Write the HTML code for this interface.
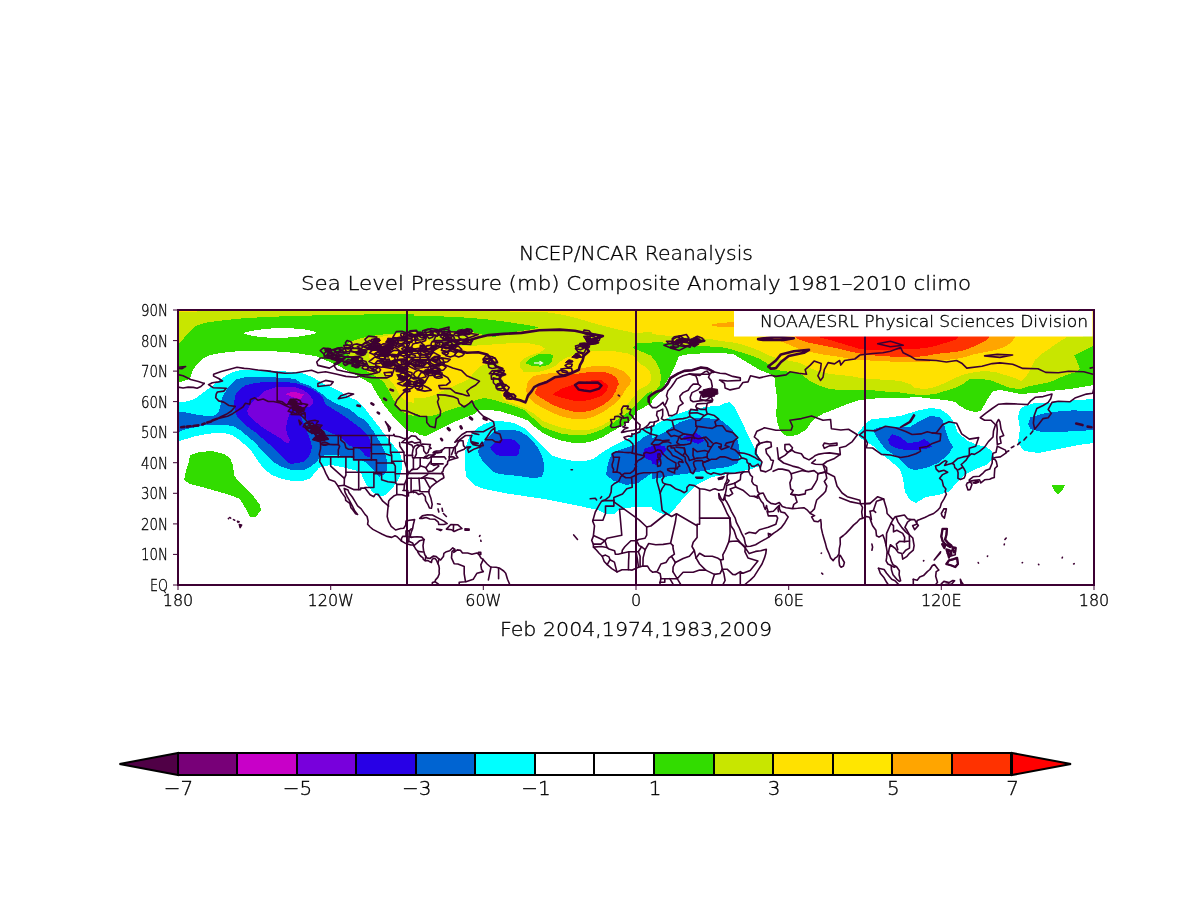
<!DOCTYPE html><html><head><meta charset="utf-8"><title>NCEP/NCAR Reanalysis SLP Composite Anomaly</title><style>html,body{margin:0;padding:0;background:#fff;}svg{display:block}text{font-family:"DejaVu Sans","Liberation Sans",sans-serif;font-weight:200;fill:#000;stroke:#000;stroke-width:0.35px}</style></head><body>
<svg width="1190" height="921" viewBox="0 0 1190 921">
<rect width="1190" height="921" fill="#fff"/>
<defs>
<clipPath id="c1"><rect x="178" y="310" width="236" height="275"/></clipPath>
<clipPath id="c2"><rect x="414" y="310" width="238" height="275"/></clipPath>
<clipPath id="c3"><rect x="652" y="310" width="238" height="275"/></clipPath>
<clipPath id="c4"><rect x="890" y="310" width="204" height="275"/></clipPath>
<clipPath id="cm"><rect x="178" y="310" width="916" height="275"/></clipPath>
</defs>
<g shape-rendering="crispEdges">
<g clip-path="url(#c1)">
<polygon fill="#32dc00" points="170,300 420,300 420,434 414,433 406.4,430.2 395.1,418.9 383.8,404.7 376.7,393.4 371.1,383.6 358.4,376.5 337.2,365.2 316,356 306,354.6 296,353 276,351.4 256,351 236,351.4 220,353 210,355 202,359 196,365 192,372 191,376 187,380 182,381.5 179,382 170,382"/>
<polygon fill="#ffffff" points="243,333 256,330 272,328.4 288,328 304,329.4 317,332 314,334 296,337 276,338.2 260,337 248,335"/>
<polygon fill="#c8e600" points="170,300 420,300 420,314 406,314 356,314.6 316,315.4 276,316.6 246,318 226,320 206,322.6 196,326 190,331 184,338 179,343 170,343"/>
<polygon fill="#ffe100" points="170,300 224,300 224,311 170,312"/>
<polygon fill="#c8e600" points="341.4,347.5 351.3,341.2 362.6,337.7 375.3,335.5 386.6,334.1 400.7,333 420,332 420,418 406.4,413.9 400.7,410.4 396.5,404.7 392.3,397.7 388,389.2 383.8,382.1 378.1,377.9 369.7,373 362.6,368.7 357,363.8 348.5,355.3"/>
<polygon fill="#ffe100" points="381,337 395,334 420,332.5 420,404 409.2,401.9 403.6,399.1 399.3,394.9 395.1,386.4 389.4,379.3 382.4,373.7 375.3,368 369.7,359.5 368.3,351.1 372.5,344"/>
<polygon fill="#32dc00" points="190,455 200,452 212,451 224,454 230,458 233,465 234,475 238,481 246,489 254,497 260,505 261,510 256,517 250,517 246,509 240,499 230,495 216,491 202,487 190,484 184,480 186,471 189,461"/>
<polygon fill="#00ffff" points="170,402 178,402 186,401.5 192,400 196,398 200,395 204,392 208,389 212,386 216,383 220,380 224,377 229,374 236,371 246,369.5 256,369.5 266,370 276,371 286,371.5 295,372 304,373.6 314,378 322,383 333,388 341,392 349,397 358,401 366,410 373,419 380,428 386,436.5 391.5,443 396,448.4 400.7,454.8 402,461.2 402,467.6 400.7,474 397.9,480.4 394.2,485.9 388.8,492.3 383.3,496 377.8,496.5 372.3,491.4 366.8,485.5 364,480.4 361.3,474 355.8,470.4 344.8,467.6 331.1,464.9 319.2,467.6 314.6,473 310,478.6 302,481 292,481 282,479 272,475 264,469 258,461 252,452 250,450 244,444 238,439 232,435 226,433.5 216,433 206,434 196,436 186,439 179,441 170,441"/>
<polygon fill="#0064d2" points="170,412 179,412 186,412.5 196,414.5 206,416 214,415.5 218,413 220,408 221,402 223,396 227,389 231,384 236,379.5 244,377.5 256,376.5 266,376.5 276,377.5 286,378 295,379 300,382.5 308,385 315,389 322,394 328,399 335,403 342,406 349,409 353,412 359,417 364.9,420 368.6,424.6 373.2,431 377.8,438.3 381.4,444.7 384.2,450.2 386,456.6 387.4,464 386.5,471.3 383.3,475 379.6,476.8 375.9,473.1 372.3,468.5 366.8,463 361.3,460.3 354,458.5 346.6,456.2 337.5,455.3 328.3,455.3 320,455.7 319.2,458.5 315.5,463 310,467 304,470 292,470 282,467 272,461 262,451 258,446 252,440 246,435 240,430 234,426.5 226,425 216,424.5 206,425 196,427 186,429 179,432 170,432"/>
<polygon fill="#2800e6" points="236,393 240,389 245,385.5 255,383 265,382 275,381.8 285,382 295,383 305,386 312,389 318,393 323,398 325.3,404.2 332,408.4 338.7,412.6 345.5,416.8 352.2,421.8 358.9,426.9 364,431.9 367.3,435.3 369.8,439.5 370.7,443.7 370.7,450.4 369.8,457.1 365.6,456.3 361.4,450.4 357.2,447.9 353,447.1 348.8,445.4 343.8,440.3 340.4,437 337.1,435.3 332,433.6 325.3,430.3 319.4,427.7 313.5,424.4 306.8,419.3 302.6,415.1 300.9,416.8 304.3,425.2 308.5,435.3 311,442 311.8,447.1 311,452.1 308.5,457.1 304.3,461.3 298.4,463 290,463.9 283,458 277,452 269,444 262,438 255,432 248,427 242,422 237,416 235,410 234,403 235,397"/>
<polygon fill="#7800dc" points="258,397 265,391 275,387.5 285,386.5 295,387.2 303,389.8 309,394 312.5,399 313,403 310,406.5 304,408 299,407 291,408 290,412 288.5,417 287,422 286,429 287.5,435 290,440 288,443.5 284,441.5 280,438 274,434.5 267,430.5 260,425.5 254,420.5 249,416 247,411 250,405 254,400"/>
<polygon fill="#c800c8" points="285,394 290,392.5 295,392 300,393.5 304,394.5 302,397 300,399.5 295,398 290,396"/>
</g>
<g clip-path="url(#c2)">
<polygon fill="#32dc00" points="410,300 660,300 660,403 652,403 648,405 643,408 637,411 633,418 627,423 620,427 613,431 603,437 593,441 583,443 573,443 563,441 553,438 543,433 533,425.5 529,421 519,417 509,414 499,411 489,410 479,410 474,414 464,418 454,422 444,427 434,432 426,436 420.3,435 415.3,432.1 410,430"/>
<polygon fill="#c8e600" points="410,300 660,300 660,391 652,391 648,393 643,397 637,403 633,408 627,413 620,418 613,423 603,429 593,433 583,435.5 573,435 563,434 553,431 543,427 533,418 524,410 514,406 504,403 494,400 484,398 476,400 469,404 459,407 449,410 439,414 429,416.5 422,416.1 415.3,413.6 410,412"/>
<polygon fill="#32dc00" points="410,316 444,316.5 464,317.5 484,319 504,321.5 524,324.5 533,326 538,327.5 533,329 524,330.5 514,332 504,334 494,337 484,335 474,332.5 444,331 410,332"/>
<polygon fill="#ffe100" points="490,310 660,310 660,332 643,332.5 636,333.5 628,331.5 618,329.5 608,327 598,324.5 588,321.5 578,318.5 568,316 558,314 548,312.5 533,311.8 510,311.5 490,311.2"/>
<polygon fill="#ffe100" points="410,341 424,340 434,341 444,345 454,346 469,346 484,345 499,344 514,343 527.6,343 540.2,345.6 545.3,348.9 540.2,352.3 531.8,354.8 523.4,359 520,363 520.5,367.5 523.4,371.6 531.8,372.5 540.2,371.6 548.6,369.1 555.3,365.7 560.4,361.5 565.4,358.2 573.8,354.8 582.2,352.3 590.6,350.6 599,350.6 607.4,351 615,351.4 622,352.5 628,353.5 634,356 637,361 641,364.5 646,367 650,372 651.5,378 650,383 646,386 641,388.5 637,391 635,395 631,400 625,407 618,414 611,420 603,425 593,429 583,430.5 573,430 563,428 553,425 543,421 533,413 524,408 514,404 504,400 501,393 502,383 500,373 499,364 494,362 486,364 479,367 474,372 470,378 464,381.7 455.6,385 447.2,389.2 438.8,392.6 434.6,395.1 426.2,397.6 417.8,398.1 410,398.5"/>
<polygon fill="#32dc00" points="525.1,363.2 531.8,357.3 540.2,353.5 548.6,353.5 552.8,355.6 552,361.5 548.6,364.9 540.2,366.6 531.8,365.7"/>
<polygon fill="#32dc00" points="633,348 637,343.5 643,343 652,342.5 660,342 660,362 652,356 645,353 640,351 636,349.5"/>
<polygon fill="#ffa500" points="526,390 528,381 533,376 543,374 553,373 568,371 583,368 593,366 603,365.5 613,367 623,371 629,376 631,380 630,384 626,389 621,397 613,405 603,412 593,417 583,419.5 573,419 563,417 553,413 543,408 533,402 528,397"/>
<polygon fill="#ff3200" points="535,392 537,388 539,385.5 543,382 553,378 568,375 583,373 593,371.5 603,371.5 611,374 617,378 619,384 618,385 616,391 611,399 603,405 593,410 583,412 573,411.5 563,409 553,405 543,399 536,395"/>
<polygon fill="#ff0000" points="553,395 555,392.5 563,388 573,385 583,382 593,380 601,380 605,383 608,386 607,391 601,396 593,399 583,401 573,400.5 563,398"/>
<polygon fill="#00ffff" points="467,443 470,435 476,429 484,424 494,421 504,421.5 514,423 524,428 533,436 543,447 553,456 563,459 573,461 583,461.5 593,459 603,452 613,446 623,441 629,438 633,435 637,432 643,429 652,425 660,424 660,507 652,507 634,507 620,509 614,514 606,514 598,510 584,507 564,503 544,499 524,496 504,493 484,489 474,485 466,477 465,465 465,453"/>
<polygon fill="#0064d2" points="488,437 494,432 499,430 509,429.5 519,431 526,435 533,441 538,448 542,456 544,464 544,471 542,477 533,478 514,475.5 499,474 492,471 484,463 479,455 478,451 480,446 484,441"/>
<polygon fill="#2800e6" points="490,447 494,443 502,439 509,438.5 516,441 520,446 519,453 516,456 504,456.5 497,455 492,451"/>
<polygon fill="#0064d2" points="606,475 608,463 612,453 622,449 634,445 644,437 652,433 660,432 660,473 652,473 638,483 626,485 614,481"/>
<polygon fill="#2800e6" points="644,449 652,446 660,446 660,462 652,461 646,459 643,455"/>
</g>
<g clip-path="url(#c3)">
<polygon fill="#32dc00" points="645,300 1100,300 1100,385 1094,385 1070,389 1050,391 1034,393 1020,394 1010,392 1000,390 993,391 987,400 981,411 975,412 967,410 960,406 955,402 945,400 935,399 925,398 919,397 900,398 880,398 870,399 860,400 850,403 840,407 830,411 824,413 816,418 812,421 808,427 804,431 798,434.5 792,436 786,435.5 782,433 779,428 777,421 776,413 777,405 777,397 775.5,387 775,378 770,374 760,370 750,364 740,358 733,354 720,353 710,353 690,354 679,356 675,366 670,376 664,386 660,393 652,400 645,405"/>
<polygon fill="#c8e600" points="645,300 1100,300 1100,345 1092.4,346.2 1084,350.4 1074,355.4 1077.3,362.1 1079.8,368.9 1075.6,372.2 1067.2,374.7 1058.8,378.1 1050.4,382 1040,384 1030,386 1020,389 1010,388 1000,384 990,380 980,379 970,379 963,384 955,388 945,391 935,394 925,395 919,395 910,394 900,392.5 890,392 880,391 870,390 860,389.5 850,390 840,390 830,389 820,386 810,381 800,373.5 790,372 776,370 768,364 760,359 750,355 740,352 730,349 720,347 700,346 680,346 660,342 645,343"/>
<polygon fill="#c8e600" points="645,350 650,356 656,362 660,370 661,378 660,385 655,392 650,396 645,400"/>
<polygon fill="#ffe100" points="645,300 1100,300 1100,336 1067,337 1059,342 1050.4,347.9 1042,353.7 1035.3,359.6 1032,365.5 1030,370.5 1025,378 1021,381 1015,378 1005,375 995,372 985,371 975,372 965,374 955,378 945,383 935,387 925,389 915,388 910,384 900,381 890,380 880,379.5 870,379 860,378 850,376 840,375 830,374 820,372 810,368 800,363 790,361 780,359 770,356 760,351 750,347 740,344 730,342 720,341 710,339 700,338 680,337 660,335 645,333"/>
<polygon fill="#ffa500" points="712,324.5 720,323 734,322 740,322 740,327.5 720,327 712,325.5"/>
<polygon fill="#ffa500" points="760,330 1020,330 1015,337 1012.6,341 1006.7,346 1000,348.7 995,350 985,352 975,354 965,357 955,359 945,360 935,361 925,362 915,362 900,362 890,361.5 880,361 870,360.5 860,360 850,359 840,357 830,355.5 820,354 810,352 800,349.5 790,345 780,341 770,338 764,336"/>
<polygon fill="#ff3200" points="790,330 992,330 989,337 985,341 975,346 965,350 955,352 945,353 935,354 925,356 915,357 900,356.5 890,356.5 880,356 870,355 860,353.5 850,351.5 840,349 830,347 820,345 810,343 800,340 795,337"/>
<polygon fill="#ff0000" points="820,330 960,330 958,337 955,340 945,343 935,346 925,348 915,349 900,349.5 890,350 880,350.5 870,350 860,349 850,346 840,343 830,340 820,337.5"/>
<polygon fill="#00ffff" points="645,430 650,428 660,422 670,417 680,413 690,410 700,408 710,406.5 719,406 725,403 730,402 735,408 738,414 743,424 748,435 754,447 760,459 761,465 752,469 732,473 712,477 696,485 686,495 676,507 668,515 660,513 652,509 645,508"/>
<polygon fill="#0064d2" points="645,441 655,437 665,432 672,427 680,422 690,419 700,418 710,418.5 719,419 722,421 732,429 738,441 740,453 738,463 728,467 712,469 692,473 676,475 664,477 652,479 645,480"/>
<polygon fill="#2800e6" points="643,453 648,447 656,445 665,446 666,450 662,456 660,462 656,465 650,463 644,458"/>
<polygon fill="#2800e6" points="683,437 690,434 696,433 702,437 704,441 698,444 690,441 684,440"/>
<polygon fill="#00ffff" points="858,433 862,428 866,423 872,419 885,418 900,416 910,413 920,410 930,408 940,409 946,413 951,418 955,424 958,433 968,441 978,445 986,447 992,451 994,457 986,465 976,469 964,475 956,483 950,491 938,495 926,497 916,503 910,500 905,492 903,478 900,470 894,464 888,459 880,453 873,446 866,441 860,438"/>
<polygon fill="#0064d2" points="873,430 880,427 888,427 900,427.5 910,427 920,421 930,416 940,417 943,421 945,428 948,438 953,447 948,455 938,463 926,468 915,470 908,468 904,463 896,456 886,450 880,442 876,436"/>
<polygon fill="#2800e6" points="888,440 892,434 900,437 908,443 918,442 924,439 930,443 932,447 925,449 915,450 905,450 896,448 890,445"/>
</g>
<g clip-path="url(#c4)">
<polygon fill="#32dc00" points="645,300 1100,300 1100,385 1094,385 1070,389 1050,391 1034,393 1020,394 1010,392 1000,390 993,391 987,400 981,411 975,412 967,410 960,406 955,402 945,400 935,399 925,398 919,397 900,398 880,398 870,399 860,400 850,403 840,407 830,411 824,413 816,418 812,421 808,427 804,431 798,434.5 792,436 786,435.5 782,433 779,428 777,421 776,413 777,405 777,397 775.5,387 775,378 770,374 760,370 750,364 740,358 733,354 720,353 710,353 690,354 679,356 675,366 670,376 664,386 660,393 652,400 645,405"/>
<polygon fill="#c8e600" points="645,300 1100,300 1100,345 1092.4,346.2 1084,350.4 1074,355.4 1077.3,362.1 1079.8,368.9 1075.6,372.2 1067.2,374.7 1058.8,378.1 1050.4,382 1040,384 1030,386 1020,389 1010,388 1000,384 990,380 980,379 970,379 963,384 955,388 945,391 935,394 925,395 919,395 910,394 900,392.5 890,392 880,391 870,390 860,389.5 850,390 840,390 830,389 820,386 810,381 800,373.5 790,372 776,370 768,364 760,359 750,355 740,352 730,349 720,347 700,346 680,346 660,342 645,343"/>
<polygon fill="#ffe100" points="645,300 1100,300 1100,336 1067,337 1059,342 1050.4,347.9 1042,353.7 1035.3,359.6 1032,365.5 1030,370.5 1025,378 1021,381 1015,378 1005,375 995,372 985,371 975,372 965,374 955,378 945,383 935,387 925,389 915,388 910,384 900,381 890,380 880,379.5 870,379 860,378 850,376 840,375 830,374 820,372 810,368 800,363 790,361 780,359 770,356 760,351 750,347 740,344 730,342 720,341 710,339 700,338 680,337 660,335 645,333"/>
<polygon fill="#ffa500" points="760,330 1020,330 1015,337 1012.6,341 1006.7,346 1000,348.7 995,350 985,352 975,354 965,357 955,359 945,360 935,361 925,362 915,362 900,362 890,361.5 880,361 870,360.5 860,360 850,359 840,357 830,355.5 820,354 810,352 800,349.5 790,345 780,341 770,338 764,336"/>
<polygon fill="#ff3200" points="790,330 992,330 989,337 985,341 975,346 965,350 955,352 945,353 935,354 925,356 915,357 900,356.5 890,356.5 880,356 870,355 860,353.5 850,351.5 840,349 830,347 820,345 810,343 800,340 795,337"/>
<polygon fill="#ff0000" points="820,330 960,330 958,337 955,340 945,343 935,346 925,348 915,349 900,349.5 890,350 880,350.5 870,350 860,349 850,346 840,343 830,340 820,337.5"/>
<polygon fill="#00ffff" points="858,433 862,428 866,423 872,419 885,418 900,416 910,413 920,410 930,408 940,409 946,413 951,418 955,424 958,433 968,441 978,445 986,447 992,451 994,457 986,465 976,469 964,475 956,483 950,491 938,495 926,497 916,503 910,500 905,492 903,478 900,470 894,464 888,459 880,453 873,446 866,441 860,438"/>
<polygon fill="#0064d2" points="873,430 880,427 888,427 900,427.5 910,427 920,421 930,416 940,417 943,421 945,428 948,438 953,447 948,455 938,463 926,468 915,470 908,468 904,463 896,456 886,450 880,442 876,436"/>
<polygon fill="#2800e6" points="888,440 892,434 900,437 908,443 918,442 924,439 930,443 932,447 925,449 915,450 905,450 896,448 890,445"/>
<polygon fill="#00ffff" points="1018,417 1020,409 1025,406 1034,403 1048,403 1068,401 1078,400 1094,399 1100,399 1100,443 1094,443 1078,445 1058,449 1038,453 1024,451 1018,443 1020,429"/>
<polygon fill="#0064d2" points="1028,424 1030.5,417.4 1044.6,413.2 1058,411.5 1072.8,410.4 1094,411 1100,411 1100,430 1094,430 1078,431 1058.7,432 1040,431.5 1030.5,429"/>
<polygon fill="#32dc00" points="1052,485 1065,485 1063,489 1058,495 1055,492 1053,488"/>
</g>
</g>
<g clip-path="url(#cm)" fill="none" stroke="#3c0032" stroke-width="1.6" stroke-linejoin="round" stroke-linecap="round">
<polyline points="432.2,585.4 432.4,582.6 435,581.7 435.5,579.9 437.8,577.4 439.3,573.8 439.1,571.3 439.3,568.3 438.8,565.5 437.8,563.4 436.5,560.3 435,558.5 433.5,558.2 431.9,560 431.4,562.5 429.9,561.8 428.1,560.6 425.1,560.6 423.3,559.4 423,557.9 420.5,556 419.5,554.8 417.9,552.4 417.9,551.4 415.9,549.3 413.9,545.9 413.1,545 410.8,545 407.5,544.1 404.7,542.9 401.4,541 397.1,536.7 395,535.8 391.7,537.4 387.2,536.4 382.3,534.3 377.7,531.9 372.9,529.4 370.1,527 367.6,524.2 368.1,521.1 367.1,516.5 365,514.4 361.2,508.9 357.6,505.8 354.8,501.2 352.3,497 349,492.7 348,489.9 344.2,488.4 345.2,492.7 347.2,496.7 349.8,501.2 352.3,505.8 354.8,511 357.6,514.4 355.6,513.8 353.1,510.4 350.8,507.4 349.8,503.4 345.7,500.3 345.4,497.6 341.6,492.4 339.1,488.1 338,486 334.7,481.4 329.1,479.5 325.8,473.4 324.3,469.7 321,463.6 319.7,461.8 320.2,457.2 319.2,454.4 320.5,448.9 320.7,444 320.2,441.6 318.7,437.3 322.5,437.9 324.3,440.1 323.5,435.8 322.5,434.5 318.5,432.4 314.1,430 310.8,428.4 309,423.8 305.2,419.2 301.4,415.6 297.6,412.5 293.8,407.9 288.7,407 285.4,405.5 280.3,403 273.4,401.5 268.3,401.5 263.2,399 258.1,400.3 254.8,397.8 250.5,399.4 249.8,404.2 245.4,403.3 242.9,407 237.8,410.4 232.7,413.7 227.6,416.2 222.5,417.4 216.7,418.9 221.3,416.5 226.3,414.3 231.4,411 235.2,406.4 228.9,405.5 223.8,402.1 218.7,400.9 215.7,397.8 216.2,394.1 217.4,392 223.8,391.1 226.3,388.3 220,388 213.1,387.7 208.5,384.7 212.3,382.8 218.7,381.9 222.5,381 218.7,378.5 213.6,376.1 213.6,374.3 221.3,371.5 228.9,369.4 237,367.2 244.2,368.4 249.2,368.8 258.1,370 267.1,370.9 277.2,372.4 284.9,373.3 292.5,373 296.3,372.7 305.2,371.2 311.6,370.3 317.9,372.7 325.6,371.8 337,374.3 345.9,376.4 356.1,377.3 361.2,375.8 365,376.7 371.4,377.6 381.6,377.9 386.6,377.9 391.7,375.8 395.6,365.4 399.4,369.7 401.9,372.7 408.3,374.3 413.4,378.9 417.2,378.9 421,372.7 427.4,372.1 428.6,375.8 424.8,382.5 417.2,383.4 412.1,388 405.2,391.1 400.6,395.7 396.8,400.3 395,404.9 400.6,410.4 407,411 414.6,414.3 419.7,416.2 426.6,416.5 426.8,422.6 429.9,426.3 435,427.8 435.5,424.8 436.3,418.6 440.1,415.6 440.6,411 438.8,406.4 437.5,401.8 438.8,398.7 437.5,394.8 445.2,395.1 452.8,396.6 457.9,398.7 459.2,403.3 464.2,407 469.3,403.3 471.9,400.9 474.4,406.4 479.5,412.5 483.3,416.2 488.4,418.6 493.5,421.7 494.3,425.7 489.7,428.1 483.3,431.8 475.7,431.5 466.8,431.8 461.7,434.8 457.9,438.5 454.8,442.2 459.2,440.1 465.5,435.5 471.9,435.5 470.6,438.5 471.1,442.2 473.2,444.6 479.5,445.9 480.8,446.8 474.4,448.9 468.6,452.3 467.6,449.2 470.6,446.8 466.8,447.1 464.2,449.2 460.4,450.8 457.4,452 455.9,455 457.9,457.8 454.1,458.7 450.3,459.9 447.7,461.2 447.5,463.9 445.2,466.4 443.9,467.9 442.9,471.6 441.9,472.2 443.6,475.9 443.9,477.7 441.4,479.2 437.8,481.7 434.5,483.8 431.2,486.6 429.1,489.9 428.9,492.7 430.9,498.2 432.2,504.3 431.4,508.3 429.4,508 427.9,504.3 425.6,500.6 425.3,496.7 422.3,493.3 418.7,494.5 415.9,492.4 412.1,491.8 408.3,493 408.5,496 405.7,496 401.9,494.8 397.3,494.5 394.3,495.7 390.5,498.8 388.7,500.9 388.2,505.8 387.7,510.4 387.2,516.5 388.4,521.1 391.2,526.3 395.6,530 400.6,528.5 403.7,528.2 405.7,525.1 406,521.1 409.5,520.2 414.6,519.6 413.4,524.2 412.6,528.8 411.3,531.9 410.1,536.7 412.1,537.1 417.2,536.7 421.8,537.1 424,539.5 423,545.6 423.5,550.2 424.8,554.8 426.8,557.9 429.9,558.5 433.5,556 436.3,556.6 439.1,559.1 440.6,560 443.4,556.6 443.9,553.3 446.4,551.7 449.7,550.8 452.8,547.8 454.8,549.3 453.8,552.4 457.4,549.9 460.4,550.2 462.5,553 467.6,553 471.9,554.2 477,553 478.8,554.2 480.8,557.9 483.3,559.7 487.1,564 490.5,567 496.1,567.3 499.9,568.3 503.7,571 505.7,573.2 507.5,579.3 508.8,582.3 510.1,585.4"/>
<polyline points="401.7,442.5 407,442.8 412.1,441.6 414.6,443.1 419.7,442.2 420.7,443.1 420.2,440.1 417.7,438.8 415.9,436.4 411.3,435.8 408.3,438.5 405,439.7 401.7,442.5"/>
<polyline points="412.6,457.8 414.6,457.8 416.4,453.8 416.2,449.2 418.4,446.8 420.2,445.3 417.2,444.9 414.6,446.2 413.1,449.2 412.3,453.8 412.6,457.8"/>
<polyline points="420.5,445.3 423.5,446.8 423.8,450.8 426.1,453.8 428.1,452.3 429.1,448.9 431.2,448.3 429.4,446.8 430.4,444.6 426.1,444.3 422.3,444 420.5,445.3"/>
<polyline points="423.8,457.8 428.1,458.4 432.4,456.3 435.2,454.1 432.4,455 428.6,455 426.1,456.9 423.8,457.8"/>
<polyline points="433,452.9 437.5,452.9 441.4,452.3 442.1,450.1 440.1,450.8 436.3,451.1 434,451.7 433,452.9"/>
<polyline points="389.2,431.2 390.5,427.8 386.6,423.2 385.4,421.7 387.9,426.3 389.2,431.2"/>
<polyline points="338.3,398.7 345.9,397.2 353.6,394.1 348.5,393.2 340.8,395.7 338.3,398.7"/>
<polyline points="317.9,386.5 330.7,385 333.2,381.9 325.6,380.4 317.9,383.4 317.9,386.5"/>
<polyline points="329.4,368.1 317.9,365.4 316.7,362 320.5,358 330.7,358 337,359 342.1,360.5 338.3,363.6 334.5,365.1 329.4,368.1"/>
<polyline points="334.5,366.6 337,369.7 343.4,371.2 351,372.7 361.2,374.9 367.6,374.9 377.7,372.7 375.2,369.7 370.1,368.1 366.3,363.6 357.4,362.6 351,362 342.1,361.1 334.5,363.6 334.5,366.6"/>
<polyline points="338.3,352.8 351,351.3 365,354.4 358.7,356.5 348.5,357.4 339.6,355.9 338.3,352.8"/>
<polyline points="325.6,351.3 338.3,348.2 340.8,350.4 333.2,353.5 325.6,351.3"/>
<polyline points="381.6,351.3 387.9,353.5 386.6,355.9 380.3,354.4 381.6,351.3"/>
<polyline points="391.7,354.4 399.4,355 398.1,356.8 391.7,356.8 391.7,354.4"/>
<polyline points="399.4,351.3 419.7,351.3 432.4,352.2 429.9,357.1 404.5,357.4 400.6,354.4 399.4,351.3"/>
<polyline points="407,349.8 432.4,351.3 442.6,345.2 450.3,342.1 465.5,339.1 478.2,334.5 457.9,332 432.4,331.4 407,336 401.9,339.1 409.5,343.7 407,349.8"/>
<polyline points="391.7,339.1 401.9,336.9 412.1,339.1 412.1,342.1 401.9,344.3 391.7,342.1 391.7,339.1"/>
<polyline points="469.3,395.7 466.8,391.1 470.6,388 475.7,385 479.5,381.3 474.4,378.9 466.8,375.8 461.7,370.6 452.8,368.1 445.2,365.1 436.3,362.9 429.9,359.6 417.2,359.6 410.8,362 408.3,366 415.9,369.7 422.3,371.2 428.6,372.7 432.4,372.7 441.4,374.3 447.7,377.6 450.3,381.9 446.4,385 438.8,385.6 440.1,388.6 450.3,388.6 455.3,392.6 461.7,394.1 466.8,395.7 469.3,395.7"/>
<polyline points="417.2,389.6 422.3,385 428.6,388 431.2,390.2 424.8,391.1 417.2,389.6"/>
<polyline points="394.3,360.5 404.5,359 405.7,363.6 399.4,365.1 394.3,360.5"/>
<polyline points="379,360.5 389.2,359 390.5,365.1 384.1,366.6 379,360.5"/>
<polyline points="384.1,372.7 391.7,372.1 391.7,375.5 385.4,375.8 384.1,372.7"/>
<polyline stroke-width="2.6" points="525.3,402.4 520.2,400.3 513.9,398.7 509.3,394.1 506.2,391.1 503.7,388 501.1,383.4 499.4,378.9 501.1,375.8 505,374.3 498.6,371.2 502.4,368.8 496.1,366.6 493.5,362.6 491,359 487.1,354.4 478.2,352.2 466.8,352.8 455.3,349.8 451.5,346.7 457.9,344.3 468.1,340.6 478.2,337.5 488.4,335.1 503.7,333.9 521.5,332.9 539.3,330.2 559.7,329.6 574.9,330.8 585.1,332.9 602.9,336 591.5,340.6 587.7,343.7 586.4,348.2 588.9,351.3 583.8,355.9 582.6,360.5 580,365.1 578.8,369.7 572.4,372.7 564.8,375.8 554.6,377.3 546.9,381.9 539.3,384.4 534.2,387.1 531.7,391.1 527.9,395.7 526.6,399.4 525.3,402.4"/>
<polyline stroke-width="2.4" points="578.8,389.6 574.9,385 578.8,382.5 588.9,382.8 597.8,382.5 601.6,385.6 599.1,388.6 590.2,391.4 583.8,390.5 578.8,389.6"/>
<polyline points="322.3,435.5 356.1,435.5 393.8,435.5 393.8,434.2 394.8,436.1 399.4,436.7 403.2,438.2 408,438.5"/>
<polyline points="426.1,456 424.8,456.9 423.8,457.8"/>
<polyline points="435,452.9 434.5,453.2"/>
<polyline points="442.1,450.1 445.2,447.7 454.1,447.7 456.6,445.6 457.9,442.5 459.9,440.4 463,440.7 463.5,445.6 465.5,447.7"/>
<polyline points="277.2,400.9 277.2,372.4"/>
<polyline points="277.2,400.9 282.3,401.8 286.1,404.9 291.2,402.7 296.3,406.7 300.1,412.5 305.2,414.3 305.2,418"/>
<polyline points="338,486 344.2,485.3 353.6,489.6 360.7,489.6 360.7,488.1 365,488.1 370.1,494.8 373.9,496.7 375.4,494.2 378,494.2 382.8,501.2 388.7,506.1"/>
<polyline points="401.4,541 401.4,538.6 402.7,536.4 406,536.4 406,530.9 409.3,530.9 411.3,528.8"/>
<polyline points="409.3,530.9 409,536.7 411.6,537.4"/>
<polyline points="408.8,541.3 406.7,543.5"/>
<polyline points="409,536.7 408.8,541.3 412.6,542.9 413.9,545.6"/>
<polyline points="413.9,545.6 417.2,542.9 419.7,540.7 424.3,539.5"/>
<polyline points="417.9,551.4 423,552"/>
<polyline points="425.1,560.6 425.8,556.3"/>
<polyline points="437.8,563.4 439.1,559.1"/>
<polyline points="454.6,549.3 452,551.7 451.5,557.9 454.1,563.7 457.9,564 464.2,566.4 464.2,573.8 465.5,581.7 459.2,582.3 459.2,586.9"/>
<polyline points="483.3,559.4 480.8,564.9 481.6,569.5 483.3,571.6 477,573.2 473.2,579.3 466,581.7"/>
<polyline points="491,567 488.4,579.9"/>
<polyline points="498.6,568 498.6,578.7"/>
<polyline points="435,581.7 438.8,584.5 444.4,585.7"/>
<polyline points="320.5,444 333.2,444.6 338.6,444.6"/>
<polyline points="338.3,435.5 338.3,444.6 338.6,444.9 339.6,446.2 338.3,449.8 338.3,456.9"/>
<polyline points="320,456.9 338.3,456.9 353.6,456.9"/>
<polyline points="340.8,435.5 340.8,440.1 344.7,443.1 345.9,447.7 348.5,449.2 353.6,449.2"/>
<polyline points="353.6,447.7 353.6,459.9 358.7,459.9 371.4,459.9"/>
<polyline points="330.7,456.9 330.7,466.1 344.4,478.3"/>
<polyline points="345.9,456.9 345.9,475.2 344.4,478.3 344.2,485.3"/>
<polyline points="345.9,472.2 358.7,472.2 373.9,472.2 395.3,472.2"/>
<polyline points="358.7,459.9 358.7,489.6"/>
<polyline points="373.9,472.2 373.9,487.5 364.8,487.5"/>
<polyline points="373.9,473.7 381.6,473.7 381.6,479.8 387.9,481.7 395.6,482.6"/>
<polyline points="353.6,447.7 371.4,447.7 371.4,435.5"/>
<polyline points="371.4,447.7 371.4,459.9 376.5,459.9 376.5,472.2"/>
<polyline points="371.4,444.6 390.5,444.6"/>
<polyline points="371.4,453.8 385.4,453.8 390.5,455.4"/>
<polyline points="376.5,463 393.5,463"/>
<polyline points="389.2,435.5 389.2,444.6 390.5,444.6 390.5,452.3 403.9,452.3"/>
<polyline points="390.5,452.3 391.7,455.4 391.7,463 393.5,463 395.3,466.1 395.3,473.7 395.6,482.6 396.8,484.4 396.8,494.2"/>
<polyline points="392.2,461.2 403.2,461.2"/>
<polyline points="395.3,473.7 407,473.7 408.3,473.7"/>
<polyline points="396.8,484.4 404.5,484.4"/>
<polyline points="399.6,442.5 399.9,446.2 403.9,452.3 404.5,461.2 406.5,467.3 408.3,472.2 407,478.3 404.5,484.4 403.9,490.5 402.9,490.5 407.8,490.5 408,493"/>
<polyline points="405.5,455.4 412.6,455.4"/>
<polyline points="406,442.8 412.1,445.3 413.1,447.4"/>
<polyline points="413.4,457.8 413.4,469.1 412.1,469.7"/>
<polyline points="420.2,457.8 420.2,465.8"/>
<polyline points="413.4,457.8 423.5,457.8"/>
<polyline points="409.3,472.2 412.1,469.4 417.2,469.1 419.7,467 420.2,465.8 424.8,467.3 425.8,467.9 430.9,461.2"/>
<polyline points="408.3,473.4 428.1,473.4 442.9,473.6"/>
<polyline points="407,478.3 424.6,478.3 426.3,477.7 433.2,478.9 436.3,481.7"/>
<polyline points="411.1,478.3 411.1,490.5 411.1,492.4"/>
<polyline points="419,478.3 419.7,487.5 419.7,490.5 413.1,490.5 413.4,492.7"/>
<polyline points="419.7,490.5 420,491.5 427.4,491.8 428.6,491.5"/>
<polyline points="421.5,478.3 424.6,478.3 429.4,487.2"/>
<polyline points="421.5,478.3 427.4,474.6 428.1,473.4"/>
<polyline points="431.2,456.9 444.4,456.9 445.9,459"/>
<polyline points="431.2,463.9 443.1,463.9"/>
<polyline points="431.2,456.9 431.2,463.9 433.7,465.4 437.5,464.5 438.8,466.1 432.4,471 428.1,471.6 425.8,467.9"/>
<polyline points="449.5,447.7 449.5,456.9 449,459.9"/>
<polyline points="449,456.9 453.3,456.9 454.6,457.5"/>
<polyline points="451.5,454.7 454.1,447.7"/>
<polyline points="455.3,446.8 455.3,453.5"/>
<polyline points="419.7,518.4 422.3,515.9 427.4,514.7 432.4,515 438.8,518.4 443.9,521.1 447.2,523.6 443.9,524.5 438.8,524.5 438.3,522.1 435,519.3 429.9,519 426.1,517.5 422.3,518.4 419.7,518.4"/>
<polyline points="446.4,529.1 450.8,524.5 457.9,524.8 462,528.5 457.9,529.7 454.1,531.5 451.5,529.7 446.4,529.1"/>
<polyline points="453.6,525.1 453.3,530.3"/>
<polyline points="436.8,529.1 441.9,529.7 440.6,530.6 436.8,529.1"/>
<polyline points="465,528.8 469.1,529.1 469.1,530.3 465,530.3 465,528.8"/>
<polyline points="437.5,503.7 440.1,504.3"/>
<polyline points="438,508.9 438.8,512"/>
<polyline points="442.1,508.3 442.6,511.3"/>
<polyline points="443.4,513.5 446.4,516.5"/>
<polyline points="478.5,552.4 480.8,552.4 480.8,554.5 478.5,554.5 478.5,552.4"/>
<polyline points="480,535.5 479.5,536.4"/>
<polyline points="480.8,540.4 481,541.3"/>
<polyline points="239.3,524.5 241.6,525.1 240.1,527.6 239.3,524.5"/>
<polyline points="237.5,521.4 239.1,521.8 238,522.4 237.5,521.4"/>
<polyline points="233.5,519.6 234.7,520.2"/>
<polyline points="229.7,517.5 230.7,518.1"/>
<polyline points="228.4,518.4 228.6,518.7"/>
<polyline stroke-width="2.6" points="216.7,418.9 212.3,420.5"/>
<polyline stroke-width="2.6" points="211.1,421.4 207.3,422.6"/>
<polyline stroke-width="2.6" points="204.7,423.5 202.2,424.4"/>
<polyline stroke-width="2.6" points="198.4,425.4 193.3,426"/>
<polyline stroke-width="2.6" points="190.7,426.3 186.9,426.6"/>
<polyline stroke-width="2.6" points="184.4,426.9 181.1,427.2"/>
<polyline stroke-width="2.6" points="1091.5,427.2 1087.6,426.6"/>
<polyline stroke-width="2.6" points="1082.5,425.1 1076.2,423.5"/>
<polyline points="204.2,383.4 198.4,381.6 190.7,379.5 183.1,375.8 178,374.6"/>
<polyline points="1094,374.6 1083.8,371.8 1068.6,371.2 1058.4,372.7 1045.7,372.4 1038,368.8 1022.8,368.4 1012.6,364.2 999.9,362.9 992.2,363.6 982,366.3 966.8,368.1 961.7,363.2 956.6,360.5 946.4,362 936.2,360.5 923.5,359.9 915.9,359.6 910.8,356.5 903.2,352.8 900.6,347.6 890.4,351.3 882.8,352.8 872.6,353.5 859.9,355 854.8,359 844.6,360.5 840.8,365.1 839.6,360.5 834.5,363.9 828.1,362.6 824.3,369.7 823,377.3 820.5,380.4 817.9,375.8 820.5,369.7 821.2,363.6 814.1,361.1 810.3,365.1 805.2,369.7 806.5,374.3 798.8,373.3 789.9,371.8 786.1,374.9 775.9,376.4 770.9,375.2 759.4,377.9 750.5,375.8 748,381.9 742.9,382.5 739,388 730.1,389.9 725.1,388 724.5,383.4 719.5,380.1 727.6,381 740.3,380.4 740.3,377.9 732.7,376.4 725.1,373.6 720,373.3 713.6,371.8 707.2,368.4 700.9,367.5 692,370.3 684.3,370.9 678,373.6 674.2,375.8 670.4,378.2 667.8,383.4 664,388 661.4,390.2 656.4,391.7 652.5,394.1 648.7,397.2 648.7,401.8 650,404.9 652.5,407.6 656.4,407.6 660.2,404.9 663,402.4 664,404.9 666,407.3 667.8,411.6 668.8,415.6 672.4,415.6 676.7,413.4 678,409.4 678.7,406.4 683.1,403.3 680.5,400 679.8,396.3 683.1,392.6 688.2,390.2 690.7,386.5 693.2,384.1 698.3,384.1 700.9,386.5 698.3,389.6 692,392.6 690.2,397.2 690.7,400.3 693.2,401.8 699.6,400.9 706,400.3 712.3,401.8 707.2,403.3 697.1,403.9 695.8,406.4 697.6,410.4 690.7,409.4 689.4,412.5 689.9,416.5 686.9,417.7 683.1,418.6 676.7,419.2 671.6,420.5 666.5,419.5 664,420.2 661.4,418.6 662.7,415.6 662.7,413.4 662.7,409.1 660.2,410.4 657.1,411.6 656.6,415.3 657.9,417.4 658.6,420.2 656.4,421.4 653.8,422 650,422.3 648.2,424.8 646.2,426.6 643.6,428.4 640.6,429.6 639.8,432.1 636.5,433.3 632.9,434.2 631.9,433.6 631.9,436.4 628.4,436.1 624,437.3 625.3,439.1 629.6,440.7 632.9,444 632.9,447.7 632.2,452.3 628.4,452.6 623.3,452.3 616.2,451.7 612.3,453.8 613.4,456.9 613.6,459.9 612.1,464.5 612.3,467 613.6,469.4 613.1,472.2 616.9,471.9 620,473.1 621.8,475.2 624.5,473.4 630.4,473.1 634,470.3 635,467.9 636.5,466.7 635.2,464.5 638,460.6 641.1,459 644.1,456.9 643.9,453.5 646.2,452.3 650,453.2 653.8,452.3 657.6,449.8 660.9,450.5 662.7,453.8 665.3,456 667.8,458.4 671.6,460.6 675.9,463 675.9,467.6 677,469.1 678.2,466.7 679.8,466.1 678.2,463 679.3,461.5 683.1,462.4 681.8,459.9 676.7,457.2 672.4,455.4 670.6,452.3 667.3,449.2 667.6,446.5 670.9,445.6 671.1,448 674.2,447.7 675.4,450.8 678,452.3 681.8,455 685.1,457.2 685.6,461.5 687.4,464.2 689.4,468.2 690.7,472.2 693.2,473.7 694.5,470.6 695.8,469.1 694.3,466.4 693.5,463 694.3,461.2 697.1,460.6 702.2,460.6 703.4,462.4 706,461.5 709.8,459.9 707.2,458.1 707.2,453.8 709,450.8 711.3,447.1 713.6,443.7 716.1,442.8 721.2,444.3 721.2,447.1 718.7,446.8 721.5,449.5 726.3,447.7 729.1,446.8 725.1,445.6 726.3,443.1 734,441.3 732.7,444.6 731.4,447.7 730.9,448.6 735.2,450.1 739,453.8 741.8,458.1 737.8,459.9 732.7,459.9 727.6,457.8 725.1,456.9 720,456.9 716.1,459.3 711.1,459.3"/>
<polyline points="709.8,459.9 704.7,462.1 702.7,463 703.4,466.1 704.7,467.9 705.2,470.6 707.2,472.8 711.1,474.3 713.6,472.8 717.4,473.7 721.2,474.6 725.1,473.1 728.1,473.4 727.1,475.9 727.3,479.2 726.3,481.7 725.1,484.4 723.8,488.7 723,489.6 718.7,490.2 714.9,488.7 712.3,489.6 709.8,490.8 704.7,489.3 699.6,488.7 694.5,485.6 689.4,484.7 686.9,487.5 686.9,490.8 684.3,492.7 680.5,490.5 675.4,488.7 670.4,485 665.3,484.1 662.7,482.6 662,479.8 664,476.8 662.7,472.8 660.2,471.3 656.4,472.5 650,472.8 643.6,472.8 638.5,473.7 633.5,476.2 630.4,477.7 625.8,477.7 622.3,475.5 620.7,476.8 618.7,481.4 614.4,483.5 611.6,486 611.1,492.1 609.3,496.7 605.5,499.7 601.6,501.2 599.1,505.2 595.3,512 592.7,521.1 594.5,525.7 594,530.3 593.3,536.4 591.7,540.4 593.3,544.1 593.5,547.1 596.6,550.2 599.1,553.3 602.2,556.3 604.2,561.5 607.2,564.6 611.8,568.6 616.9,571.9 622,569.8 628.4,569.8 632.2,570.1 638.5,567.3 642.9,566.1 647.5,566.1 650,570.1 652.5,572.2 656.4,571.6 660.2,573.8 660.9,577.8 660.2,582.3 659.7,585.4"/>
<polyline points="718.7,493.6 719.2,498.2 722,502.2 725.1,508.9 727.1,513.5 729.9,518.1 730.9,525.7 734,530.3 736.5,538 740.3,542.6 744.1,546.8 746.2,549.3 749.2,553.6 755.6,551.4 760.7,550.8 766.3,549.3 765.8,553.6 764.5,557.9 762,564 758.1,570.1 754.3,576.2 750.5,579.9 746.7,583 744.1,585.4"/>
<polyline points="718.9,493.9 721.2,498.8 723.3,500.3 724.8,495.1 725.1,499.7 726.3,501.2 728.9,505.8 731.4,511.3 735.2,518.1 736.5,522.7 739,527.3 741.6,533.4 744.1,538 745.4,544.1 746.7,546.5 750.5,546.2 755.6,544.7 760.7,541.6 765.8,538.9 768.8,537.1 773.4,533.4 777.2,530.9 781,527.9 784.9,522.7 788.2,516.9 784.9,512.9 781,512 779.5,509.2 779.3,505.2 777.2,507.4 773.4,511.3 768.3,512 767,508 766.5,505.5 765.3,509.5 764,506.5 763.2,503.4 761.2,501.2 759.4,498.2 758.1,495.1 759.9,493.6 763.2,493 765.3,497.3 767,500.3 770.9,503.4 775.4,504.3 779.3,502.5 782.3,506.5 786.1,507.7 792.5,508.6 797.6,508.3 803.9,507.7 807,509.8 810.3,513.5 814.6,515.6 811.6,516.9 814.1,521.1 817.9,521.8 820.7,519.6 821.2,524.2 821.2,527.6 822.5,533.4 823.8,538 825.6,544.1 826.8,548.7 828.9,553.3 830.6,557.9 833.2,560.6 835,558.2 837,556.9 839,553.9 839.3,548.7 840.3,544.1 840.1,538 843.4,535.5 845.9,533.4 849.7,529.4 853.5,525.1 857.4,521.8 859.9,519 862.5,518.4 866.3,516.5 869.6,517.2 870.9,521.1 872.6,525.7 875.9,530.3 876.5,535.8 879,537.1 882.8,534.9 884.6,539.5 886.1,545.6 887.1,551.7 886.6,557.9 886.1,560.9 887.9,564 891.2,565.5 891.5,570.1 893,574.7 896.8,579.3 899.4,581.4 900.6,580.8 899.1,574.7 899.4,570.7 896.8,567 893,564.6 891.2,560.9 890.2,556.9 888.4,553.3 889.2,548.7 890.4,544.7 892.7,546.5 895.5,548.7 898.1,552.4 901.9,553.6 902.7,559.1 907,556.3 909.5,553.3 913.3,550.2 914.1,545.6 912.8,538 909.5,534.9 907,530.3 904.9,527.3 907.5,522.1 910.8,519.6 914.6,519.6 916.7,523.3 917.2,520.5 919.7,519.6 924.8,517.5 928.6,515.6 933.7,513.5 937.5,510.4 940.1,507.4 941.3,503.4 943.9,499.1 946.4,494.2 945.1,491.2 945.9,489 943.4,486 942.1,480.4 939.6,478.3 942.6,474.6 947.7,472.2 943.9,470.3 938.8,471.6 936.2,469.1 935.5,466.1 938.8,465.1 942.6,462.1 945.1,460.6 946.9,461.5 944.6,465.4 947.7,464.5 952.3,463.3 954.1,464.5 954.8,467.6 957.1,469.7 958.1,472.8 957.9,478.3 960.4,479.5 964.2,478 965.3,475.2 965.5,471.6 963.7,468.2 961.2,464.5 963,463 966.3,459.9 968.6,456 971.4,453.8 974.4,454.4 979.5,451.4 984.6,447.1 988.4,441.6 993,437 993.5,430.9 995.5,424.8 991,420.2 984.6,420.2 980.3,417.7 985.9,413.1 992.2,408.5 998.6,404.2 1006.2,403.6 1013.9,403.9 1021.5,404.2 1027.8,404.6 1030.4,401.2 1035.5,397.2 1043.1,396.6 1052,394.1 1050.7,398.7 1048.2,402.4 1043.1,405.5 1036.8,408.5 1034.2,415.6 1033.4,423.2 1034.7,429.3 1039.5,423.2 1043.1,418.6 1048.2,417.7 1051.3,413.4 1048.2,409.4 1052,402.4 1058.4,401.2 1069.8,401.8 1074.9,398.1 1086.4,394.1 1092.7,393.2 1094,388"/>
<polyline points="178,387.1 183.1,388 188.2,387.1 193.3,387.4 197.1,388.3 200.9,386.5 204.2,383.4"/>
<polyline points="997.3,444.6 1001.1,443.1 999.9,437 1003.7,435.5 1001.1,429.3 999.9,421.7 998.6,419.5 996.5,423.2 997.3,429.3 996.8,437 997.3,444.6"/>
<polyline points="992.2,458.4 995.3,457.5 1000.4,456.9 1006.2,452.9 1005.5,450.1 997.3,446.2 996,452.3 993,453.2 992.2,458.4"/>
<polyline points="994.8,459.3 996.3,461.5 997.3,466.1 994.8,468.5 994.3,475.2 994.3,477.4 991.7,478.3 989.7,479.2 984.6,479.8 980.8,482.9 979.5,479.8 974.4,480.4 969.3,481.4 969.3,479.8 973.1,476.8 979.5,476.2 983.3,472.8 985.4,470.6 989.7,469.1 992.2,463 992.2,459.3 994.8,459.3"/>
<polyline points="967.3,482.9 970.6,482 971.9,484.4 970.1,489.6 968,489.9 966.3,485 967.3,482.9"/>
<polyline points="973.1,482.9 977.5,480.7 978.7,482 975.7,483.2 973.1,482.9"/>
<polyline points="943.9,508.9 946.4,508.9 944.4,518.1 942.1,515.9 941.3,513.5 943.9,508.9"/>
<polyline points="912.6,525.7 917.2,523.9 918.4,525.4 914.6,529.7 912.6,525.7"/>
<polyline points="942.6,528.8 946.9,528.8 946.4,534.9 945.1,539.5 947.7,542.6 951.5,545.6 950.2,547.1 945.1,544.1 942.6,541 941.3,536.4 942.6,528.8"/>
<polyline points="946.4,564 949,560.3 952.8,559.4 957.1,557.9 957.9,564 955.3,567 951.5,565.5 946.4,564"/>
<polyline points="949,551.7 951.5,550.2 955.3,551.7 955.3,554.8 950.2,556.3 947.7,553.3 949,551.7"/>
<polyline points="934.2,560 940.1,553.3 940.6,551.7 934.2,560"/>
<polyline points="913.3,579.3 917.2,580.2 919.7,577.1 923.5,575.6 927.3,571.6 929.9,569.5 932.4,565.5 934.5,564.6 937.5,568.6 938.8,570.1 936.2,571.6 935.7,576.2 937.5,582.3 935,585.4 933.7,588.5"/>
<polyline points="913.3,579.3 913.3,583.9 914.1,586.9 915.9,589.1"/>
<polyline points="878.5,568.3 884.1,569.5 886.6,573.2 891.7,579.3 895,580.8 899.4,585.4 901.9,589.1"/>
<polyline points="878.5,568.3 880.3,573.2 884.1,577.8 886.6,582.3 889.2,586 891.2,588.5"/>
<polyline points="941.3,583.9 943.9,581.4 949,582.6 952.8,580.5 954.6,580.8 951.5,584.2 946.4,584.2 941.8,585.4"/>
<polyline points="960.4,579.3 961.7,582.3 963,583.9 961.2,585.4 960.4,579.3"/>
<polyline points="839.3,555.4 840.3,555.4 844.4,562.5 843.4,566.1 841.1,567.3 839.6,565.5 839,560.9 839.3,555.4"/>
<polyline points="871.9,544.1 872.6,547.1 871.9,550.2"/>
<polyline points="755.6,450.8 756.9,446.2 760.7,443.1 767,441.6 770.9,442.2 771.4,446.8 765.8,449.2 766.5,453.2 769.6,456.9 770.9,459.9 773.4,460.6 772.6,463.6 771.1,469.1 765.8,471.9 760.7,470.6 760.2,467.9 762,462.1 760.7,460.6 758.1,457.2 755.6,453.8 755.6,450.8"/>
<polyline points="784.9,444.6 789.4,444.3 792.5,447.7 791.2,450.8 787.4,452.3 784.9,449.2 784.9,444.6"/>
<polyline points="824.3,443.1 829.4,444 837,443.1 837,445.3 829.4,445.9 824.3,448.3 823,445.3 824.3,443.1"/>
<polyline points="900.6,427.2 905.7,424.8 910.8,421.7 914.6,415.6 913.9,414.7 909.5,421.7 904.4,424.8 900.6,427.2"/>
<polyline points="621.5,432.4 623.3,432.1 627.1,431.2 633.5,430.3 639.6,428.7 640.1,424.8 636.8,422 635.5,420.2 632.9,417.7 631.9,415.6 629.6,414 630.9,409.4 627.1,408.8 628.4,406.1 623.3,406.1 621.5,409.4 621.8,413.1 620.2,414 623.3,417.1 623.3,418.3 627.9,417.4 628.4,420.8 628.4,422.3 624.5,422.3 625.3,425.4 622.8,426.9 627.9,427.8 624.5,429 621.5,432.4"/>
<polyline points="620.7,426.3 620.2,422.3 620.7,420.2 622,418 618.2,416.2 614.9,416.5 614.4,419.2 610.6,419.5 611.8,422.6 610.6,426.3 611.8,427.5 615.6,427.2 619.5,426 620.7,426.3"/>
<polyline points="667.6,469.1 669.8,468.5 675.7,468.2 674.4,471.6 674.7,473.1 672.4,472.2 667.8,470.3 667.6,469.1"/>
<polyline points="657.1,459.9 660.4,459.3 660.9,463 660.2,465.8 657.6,466.4 657.4,463 657.1,459.9"/>
<polyline points="657.9,454.1 659.9,453.8 660.2,456.9 659.4,458.7 657.9,457.5 657.9,454.1"/>
<polyline points="695.8,477.4 702.9,477.4 702.2,478.3 697.1,478.3 695.8,477.4"/>
<polyline points="718.2,478.3 724,476.5 722.5,478.6 718.7,479.5 718.2,478.3"/>
<polyline points="664,345.2 676.7,341.2 692,339.7 704.7,340.6 689.4,345.2 679.3,350.4 671.6,348.2 664,345.2"/>
<polyline points="758.1,339.1 775.9,336.9 793.8,338.2 783.6,340 763.2,340 758.1,339.1"/>
<polyline stroke-width="2.6" points="768.3,366.6 775.9,360.5 781,354.4 793.8,351.3 809,349.8 803.9,352.8 788.7,355.9 781,362 775.9,368.1 770.9,368.8 768.3,366.6"/>
<polyline points="877.7,343.7 890.4,341.2 903.2,345.2 890.4,346.7 877.7,343.7"/>
<polyline points="984.6,355.9 997.3,354.4 1012.6,355 999.9,357.4 984.6,355.9"/>
<polyline points="1090.2,368.1 1094,367.2"/>
<polyline points="178,367.2 185.6,366.6 181.8,368.8 178,368.4"/>
<polyline points="1006.2,452.3 1008.8,450.8"/>
<polyline points="1011.3,447.7 1013.9,446.2"/>
<polyline points="1017.7,444.6 1020.2,442.2"/>
<polyline points="1024,440.1 1026.6,437"/>
<polyline points="1030.4,433.9 1032.9,430.9"/>
<polyline points="713.6,371.8 708.5,374.3 699.6,374.3 689.4,374 683.1,375.8 676.7,378.9 674.2,382.8 671.6,386.5 667.8,391.1 666.5,395.7 667.8,398.7 666,403.3 664.8,404.9"/>
<polyline points="698.3,384.1 697.1,378.9 695.8,375.8 689.4,374"/>
<polyline points="707.2,371.2 709.8,374.3 708.5,377.3 711.1,380.4 712.3,386.5 711.1,389.6 716.1,393.2 706,400.3"/>
<polyline points="689.4,374 699.6,375.5 704.7,371.8 707.2,371.2"/>
<polyline points="707.2,403.3 706,409.4 707.2,414 703.4,416.2 699.6,420.2 695.8,420.5 695.8,424.8 697.1,427.8 695.8,430.9 693.2,435.2"/>
<polyline points="697.1,407.9 700.9,409.4 706,409.4"/>
<polyline points="689.4,413.1 697.1,412.8 703.4,415"/>
<polyline points="689.9,416.5 694,418.9 695.8,420.5"/>
<polyline points="716.1,426.3 712.3,428.4 707.2,427.8 699.6,426.6 695.8,426.3"/>
<polyline points="672.1,420.5 673.1,424.8 674.2,429.3 678,430.9 683.8,433.9"/>
<polyline points="666.8,431.5 670.4,430.3 674.2,429.3"/>
<polyline points="666.8,431.5 671.1,436.4 674.2,435.5 679,436.7 683.8,433.9 693.2,435.2 694.3,438.5"/>
<polyline points="669.1,440.1 662,440.7 660.4,440.1 655.1,439.7 651.3,444 653.8,444.9 658.9,444.6 662.7,442.2 667.8,441.6 670.9,443.1"/>
<polyline points="656.9,435.5 655.1,439.7"/>
<polyline points="651.5,430 651.3,426.6 653.8,425.7 654.3,422.3"/>
<polyline points="642.4,429 646.7,432.1 650.8,433.9 656.9,435.5"/>
<polyline points="650.8,433.9 651.5,430 650.8,426.9 646.2,428.1"/>
<polyline points="631.4,452.9 637.8,454.4 644.1,455.7"/>
<polyline points="653.8,444.9 655.6,450.5"/>
<polyline points="613.4,457.2 619.5,457.2 618.2,463.9 616.9,471.6"/>
<polyline points="679,436.7 678,440.1 676.7,442.5 680,444.9 683.8,444.9 687.4,444.3 690.7,443.4 692.2,437.3 698.3,438.8 703.7,437.6 707.8,443.1 707.8,446.2 711.3,447.1"/>
<polyline points="679,436.7 681.3,439.1 692.2,437.3"/>
<polyline points="693.2,448.6 697.1,451.7 704.7,450.5 708.8,451.7"/>
<polyline points="670.9,446.2 675.4,445.3 680,444.9"/>
<polyline points="675.9,447.1 684.3,448 685.6,453.8 688.2,456.9 689.4,460.6 694.3,459 697.1,458.1 702.9,457.8 707.2,456.9"/>
<polyline points="693.2,448.6 693,455.4 694.5,459"/>
<polyline points="683.1,455.4 684.9,452.3 684.3,448"/>
<polyline points="703.7,437.6 706,437 712.3,442.8"/>
<polyline points="716.1,425.7 722.5,425.7 726.3,430.9 732.7,432.4 737.8,437.6 733.5,441.3"/>
<polyline points="716.1,425.7 714.9,421.7 718.7,419.2 714.4,415.6 707.8,413.7"/>
<polyline points="755.6,453.8 756.9,445.3 759.4,442.8 758.1,440.1 754.3,437 756.9,431.2 764.5,427.8 775.9,430.3 791.2,430 792.5,426.3 789.9,420.2 801.4,418.6 811.6,415.9 823,420.2 830.6,419.5 831.4,428.7 840.8,430 848.5,429.3 857.4,434.8"/>
<polyline points="857.4,434.8 852.3,441.6 845.9,446.2 839.6,447.7 840.3,454.4"/>
<polyline points="777.2,447.7 778.5,459 784.9,455.4 791.2,449.5 795,452.3 801.4,453.8 803.9,457.5 809,459.9 812.8,457.5 815.4,455.4 817.9,454.4 824.3,453.2 829.4,452.9 840.3,454.4"/>
<polyline points="773.1,471.3 778.5,469.1 782.3,469.1 788.7,470.6 791.2,473.7"/>
<polyline points="778.5,459 783.6,463 792.5,466.1 798.8,467.6 805.2,470.6"/>
<polyline points="791.2,473.7 791.7,478.3 789.9,482.9 790.7,489 793.2,490.5 791,494.2"/>
<polyline points="791,494.2 795,495.4 797.1,502.2 793.8,504.3 792.7,508.3"/>
<polyline points="791,494.2 798.8,495.1 805.2,493.9 805.7,490.5 811.6,489 815.4,482.9 817.2,479.5 817.9,473.7 825.6,472.2"/>
<polyline points="791.2,473.7 798.8,471.6 802.7,470.6 808.5,471.6 814.1,470.6 817.9,473.7"/>
<polyline points="825.6,472.2 826.8,478.3 824.3,481.4 826.8,486 825.6,491.2 823,494.2 816.7,500 815.4,504.6 814.4,508.9 812.1,511.3 810.3,512.6"/>
<polyline points="825.6,472.2 834.5,476.8 837,486 842.1,493 847.2,496.7 859.9,500.3 860.4,503.7 870.1,503.4 877.7,496.7 883.6,499.1"/>
<polyline points="839.6,497.6 849.7,501.6 860.4,503.7"/>
<polyline points="860.4,503.7 862.5,507.4 861.7,512 862.5,518.1"/>
<polyline points="870.1,511.3 871.4,519.6"/>
<polyline points="864.5,503.7 870.1,503.4"/>
<polyline points="883.6,499.1 886.6,508.9 887.1,513.5 893,519.6 891,523.3 886.6,533.4 886.1,545.6"/>
<polyline points="875.7,512.3 873.4,510.4 876.5,501.2 883.6,499.1"/>
<polyline points="870.1,511.3 873.4,510.4"/>
<polyline points="893,519.6 895,516.9 904.4,515 907.5,518.7 910.8,519.6"/>
<polyline points="891,523.3 893.5,525.7 893.5,531.9 896.8,530.3 902.7,533.4 904.7,537.4 904.4,541.6 899.4,541.3 896.3,544.1 897.8,549.6"/>
<polyline points="904.4,541.6 909.5,541 909.3,534.9 905.7,531.9 901.9,527.6 900.6,525.7 898.1,522.1 896,516.9"/>
<polyline points="903.2,553.3 905.7,550.2 909.5,548.1 909.5,541"/>
<polyline points="891,565.5 894.3,567.3 895.8,566.4"/>
<polyline points="859.4,434.8 865,438.5 867.5,443.1 866.3,447.7 872.6,448 881.5,454.4 890.4,455 900.6,457.5 908.3,456.3 915.9,453.8 920.5,451.4 919.7,447.7 927.3,446.5 932.4,443.4 940.1,440.7 940.8,433.9 932.4,433"/>
<polyline points="859.4,434.8 865,430.3 875.2,430.9 885.4,426.3 895.5,427.8 905.7,431.5 912.1,434.5 921,433.9 927.3,431.8 932.4,433"/>
<polyline points="932.4,433 936.2,433 942.6,424.8 949,421.7 956.6,423.2 961.7,433.9 969.3,439.1 978.7,437.6 975.7,446.2 969.3,448.3 969.3,454.7 968.6,456"/>
<polyline points="952.3,463.3 957.9,458.4 963,456.9 968.6,456"/>
<polyline points="958.4,469.7 962.7,467.3"/>
<polyline points="840.3,454.4 834.5,458.4 826.8,461.5 823,464.5 825.6,472.2"/>
<polyline points="817.9,473.7 826.8,471.3 826.6,467.6 823,464.5 815.4,464.2 811.6,463 815.4,459.9"/>
<polyline points="728.1,473.4 730.1,473.4 735.2,473.1 743.6,471.9 748.5,471.6 749.2,468.2 748.7,464.8 750,463.9"/>
<polyline points="741.8,458.1 744.1,458.4 746.7,459.6 747.2,462.7 750,463.9"/>
<polyline points="737.8,452.6 744.1,453.2 749.2,454.7 754.3,457.2 757.6,459.3 760.7,460.6"/>
<polyline points="750,463.9 751.8,466.1 754.3,466.4 758.1,464.2 760.4,467.9"/>
<polyline points="748.7,471.3 750.5,475.2 752.5,476.8 751.8,481.4 753.6,484.4 756.9,486 757.4,490.5 758.1,492.1 759.4,493.6"/>
<polyline points="743.6,471.9 740.8,474.3 740.3,479.8 734.7,483.2"/>
<polyline points="734.7,483.2 735.7,486.9 742.9,490.2 749.7,496 754.3,496.4 756.9,496.7 758.1,495.1"/>
<polyline points="724.8,495.1 728.9,496 732.7,493.6 730.1,489 735.7,486.9"/>
<polyline points="725.1,495.1 726.3,489 726.6,485.3 727.1,485.3 734.7,483.2"/>
<polyline points="727.3,479.2 729.1,480.7 727.1,483.5 725.3,484.1"/>
<polyline points="745.4,534 749.2,532.2 755.6,533.4 759.4,529.7 768.3,527.3 775.9,524.2 777.7,518.1 776.5,515.9 768.3,515.9 767,511"/>
<polyline points="768.8,537.1 768.3,533.4 770.9,534.3"/>
<polyline points="778.5,511.7 778,509.2 779.3,507.1"/>
<polyline points="754.3,496.4 758.1,498.2"/>
<polyline points="631.7,478.3 632.2,487.2 626.8,488.7 622.5,493.9 613.9,497.6 613.9,501.9"/>
<polyline points="613.9,500.6 602.4,500.6"/>
<polyline points="613.9,501.9 613.9,506.1 605.5,506.1 605.5,513.5 602.9,520.2 592.7,520.2"/>
<polyline points="613.9,501.9 623.8,508.9 619.5,509.2 621.8,535.2 607,538.3 605,540.7 594,535.8"/>
<polyline points="623.8,508.9 639.1,519.9 646.7,527 650.8,526 666.5,513.5"/>
<polyline points="660.2,493 662.2,510.4 666.5,513.5"/>
<polyline points="657.4,472.5 656.9,481.1 660.2,493"/>
<polyline points="665.3,484.1 662.2,488.4 660.2,493"/>
<polyline points="699.6,488.7 699.6,518.1 699.6,524.2 697.1,524.2 697.1,525.7 676.5,513.8 671.6,516.5 666.5,513.5"/>
<polyline points="699.6,518.1 729.9,518.1"/>
<polyline points="676.5,513.8 675.4,521.8 670.6,543.2 672.9,545.6"/>
<polyline points="697.1,525.7 697.1,537.4 693.2,542.3 692,546.5 694.3,550.5 696,557.9"/>
<polyline points="675.4,562.5 683.1,558.5 689.4,556.3 694.3,550.5"/>
<polyline points="672.9,545.6 673.1,548.7 674.4,554.2 671.4,556.3 675.4,562.5"/>
<polyline points="645.2,549.6 648.7,543.5 655.8,544.7 663.2,544.4 670.6,543.2"/>
<polyline points="642.9,566.1 643.1,557.9 645.2,549.6"/>
<polyline points="657.6,570.7 660.9,564 666,562.5 669.1,557.9 671.4,556.3"/>
<polyline points="646.7,527 646.7,535.2 644.9,538.3 638.5,539.5 636.5,540.7 639.1,545.6 641.6,546.8 645.2,549.6"/>
<polyline points="622,553.3 622.3,550.2 624.8,546.8 630.9,540.7 636.5,540.7"/>
<polyline points="605,540.7 607,547.5 609,549 614.6,550.8 615.4,554.2 618.2,554.2 622,553.3"/>
<polyline points="593.3,544.1 597.8,544.1 600.9,544.1 605,540.7"/>
<polyline points="593.5,547.1 601.1,546.5 607,547.5"/>
<polyline points="602.2,556.3 605.5,555.1 609,556.9 610,559.7 607.2,564.6"/>
<polyline points="610,559.7 614.4,562.1 616.9,571.9"/>
<polyline points="628.4,569.8 628.6,560.9 628.9,556.3 628.9,551.7"/>
<polyline points="638.5,567.3 637.5,560 636,551.7"/>
<polyline points="640.1,566.4 640.1,556.3 638.3,551.7"/>
<polyline points="622,553.3 628.9,551.7 636,551.7 638.3,551.7 641.6,546.8"/>
<polyline points="729.9,518.1 730.1,533.4 728.9,541.6 725.6,549.6 722.8,554.8 723.3,559.4 720.5,560 722.3,569.2 727.1,569.2 732.7,574.4 735.2,574.7 740.3,571.6 742.6,573.2"/>
<polyline points="728.9,541.6 732.7,541.3 737.8,541 741.8,544.1 745.4,547.1"/>
<polyline points="745.4,547.1 744.9,551.7 748,557.9 757.9,560.9 750.2,570.4 742.9,573.2 740.3,573.2"/>
<polyline points="740.3,573.2 740.3,590.3"/>
<polyline points="722.3,569.2 723.8,573.2 725.1,580.5 722.5,585.4"/>
<polyline points="696,557.9 699.6,553.3 704.7,556.3 712.3,556.3 717.4,557.9 720.5,560"/>
<polyline points="696,557.9 699.6,564 705.7,570.1 714.4,574.4 720,573.5 722.3,569.2"/>
<polyline points="672.9,571.6 677.2,578.7 683.1,572.2 693.2,572.2 699.6,570.1 705.7,570.1"/>
<polyline points="672.9,571.6 673.1,567 675.4,562.5"/>
<polyline points="660.9,578.7 664.8,578.7 669.8,578.7 677.2,578.7"/>
<polyline points="664.8,578.7 664.8,582.3 659.7,582.3"/>
<polyline points="677.2,578.7 681.3,585.4 680.5,588.5"/>
<polyline points="669.8,578.7 672.9,583.9 671.4,588.5"/>
<polyline points="714.4,574.4 712.1,581.7 711.3,589.7"/>
<polyline points="712.3,588.5 720,588.5"/>
<polyline points="485.1,439.7 487.1,437 491,430.9 494.8,427.5 494.8,432.4 499.9,433.9 501.7,439.7 499.9,442.5 494.8,441.6 492.2,439.7 485.1,439.7"/>
<polyline points="482.1,442.2 483.3,445.6 479.5,445.9 482.1,442.2"/>
<polyline points="471.9,441.9 478.2,443.4 474.4,444 471.9,441.9"/>
<polyline points="471.9,432.7 478.8,434.5 474.4,433.6 471.9,432.7"/>
<polyline points="590.2,498.8 595.3,498.2 596.6,500"/>
<polyline points="600.4,498.2 601.6,496.7"/>
<polyline points="573.7,534.9 577.5,539.5"/>
<polyline points="571.1,469.7 572.4,469.7"/>
<polyline points="618.2,395.1 619.5,396"/>
<polyline points="298.9,420.2 301.4,423.2 300.1,424.8 298.9,420.2"/>
<polyline points="310.3,430 317.9,432.4 321.8,437.3 317.9,436.1 310.3,430"/>
<polyline points="1004.9,539.5 1006.2,538"/>
<polyline points="978.2,562.5 978.5,563.1"/>
<polyline points="1004.4,544.1 1004.2,544.7"/>
<polyline points="1073.6,564 1074.2,563.7"/>
<polyline points="1062.2,557.9 1062.4,557.2"/>
<polyline points="1038.5,564.3 1038.8,564.6"/>
<polyline points="1022.2,562.8 1022.5,562.5"/>
<polyline points="987.4,556.3 987.6,556"/>
<polyline points="945.1,512.6 945.4,512"/>
<polyline points="821.7,573.2 822.8,574.1"/>
<polyline points="821.2,553.3 821.5,553"/>
<polyline points="923.5,560.9 923.8,560.6"/>
<polyline stroke-width="2.2" points="942.1,544.1 945.1,545.6 944.4,548.1 942.1,544.1"/>
<polyline stroke-width="2.2" points="952.3,547.1 955.8,547.8 955.3,551.7 953.8,552.4 952.3,547.1"/>
<polyline stroke-width="2.2" points="946.4,549.3 949.5,550.2 947.7,553.3 946.4,549.3"/>
<polyline stroke-width="2.2" points="947.7,553.3 949.7,554.8 949,557.6 947.7,553.3"/>
<polyline stroke-width="2.2" points="951,551.7 951.5,554.8 950.2,553.3"/>
<polyline stroke-width="2.3" points="942.6,528.8 946.9,528.8 946.4,534.9 945.1,539.5 947.7,542.6 951.5,545.6 950.2,547.1 945.1,544.1 942.6,541 941.3,536.4 942.6,528.8"/>
<polyline stroke-width="2.3" points="946.4,564 949,560.3 952.8,559.4 957.1,557.9 957.9,564 955.3,567 951.5,565.5 946.4,564"/>
<polyline stroke-width="2.6" points="648.7,401.8 648.7,397.2 652.5,394.1 656.4,391.7 661.4,390.2 664,388 667.8,383.4 670.4,378.2 674.2,375.8 678,373.6 684.3,370.9 692,370.3 700.9,367.5 707.2,368.4 713.6,371.8"/>
<polyline stroke-width="2.6" points="758.1,339.1 775.9,336.9 793.8,338.2 783.6,340 763.2,340 758.1,339.1"/>
<polyline stroke-width="3" points="448,428.4 449.5,430"/>
<polyline stroke-width="3" points="460.7,426.6 461.5,428.1"/>
<polyline stroke-width="2.6" points="441.1,438.8 442.1,440.1"/>
<polyline stroke-width="3" points="470.1,417.7 471.9,419.2"/>
<polyline stroke-width="3" points="483.8,418.3 486.4,419.5"/>
<polyline stroke-width="2.6" points="377.7,412.5 379,413.4"/>
<polyline stroke-width="2.6" points="371.4,403.3 373.4,404.6"/>
<polyline stroke-width="2.6" points="357.4,405.5 359.9,406.1"/>
<polyline stroke-width="2.6" points="384.1,398.7 386.1,400"/>
<polyline stroke-width="2.6" points="390.5,389.6 393,390.5"/>
<polygon fill="none" points="439.7,329.3 444.9,328.9 448,329.7 450.4,331.3 447.9,332.9 444,333.8 442.3,331.8"/>
<polygon fill="#3c0032" stroke="#3c0032" stroke-width="1" points="407.1,339.4 405.2,339.9 402.2,339.7 403,338.2 403.3,336.8 406,336.4 408,337.3 409.1,338.6"/>
<polygon fill="none" points="446.1,337.8 445.1,336.6 444.4,334.7 448,334.9 450.6,335 452.4,336.2 451.1,337.7 448.6,338.6"/>
<polygon fill="none" points="407.8,336.1 404.5,338.9 398.6,338.9 392.8,337.5 394.6,334.4 396.3,331.6 402.1,331.3 406.6,333.1"/>
<polygon fill="#3c0032" stroke="#3c0032" stroke-width="1" points="389.5,343.2 385.3,342.3 387.1,340.1 387.7,338.1 391.6,338.3 394,339.4 394.3,341 394.3,343.5"/>
<polygon fill="none" points="411.1,338.7 404.4,338 403.6,334.8 408.7,332.6 414.7,335.1"/>
<polygon fill="none" points="420.7,334.8 417.8,334.5 417.2,332.7 420.1,332.1 422,332.8 423.1,334.1"/>
<polygon fill="none" points="442.5,338.7 445.2,334.5 453.1,335.1 454.6,338.8 449,340.4"/>
<polygon fill="none" points="427.4,336.5 426.7,334.7 430.2,334.6 433.4,335.3 432.7,337.3 429.1,338.6"/>
<polygon fill="none" points="415.1,339.9 414.9,337.1 420.6,334.5 425.6,337.4 425.7,340.4 421.9,342 416,343.3"/>
<polygon fill="none" points="437.3,336.1 431.9,335.4 426.6,334.6 424.7,330.8 431.3,328.5 438.1,329.8 438.7,333.1"/>
<polygon fill="none" points="396.9,339.3 401.7,338.3 405.9,340 404.2,342.4 401.6,343.7 397.7,343.6 394.3,341.7"/>
<polygon fill="none" points="422.1,334.2 422.7,330.8 428.1,329.1 432.4,331.1 433.2,333.2 431.2,334.9 427.5,335"/>
<polygon fill="none" points="465.2,335.3 468.2,337.8 463.8,340.7 459.1,338.1 458.3,334.3"/>
<polygon fill="none" points="436.2,332.3 440.1,330 442.9,328.6 449.1,327 448.5,330.7 450.4,333.4 445.7,334.8 440.1,334.8"/>
<polygon fill="none" points="435.7,336.3 439.5,334.8 447.2,333.8 447.7,338.3 441.9,340.8 433.8,340.4"/>
<polygon fill="none" points="405.8,332.6 410.8,331.8 415.3,330.7 419.1,333 416.7,335.7 411.9,337.1 407.8,335.3"/>
<polygon fill="none" points="469.6,330.3 470.1,332.8 466.1,334.2 464.1,332.2 465.5,330.7"/>
<polygon fill="#3c0032" stroke="#3c0032" stroke-width="1" points="450.9,336.8 451.8,339 447.8,339.7 445,338.2 446.5,335.7"/>
<polygon fill="none" points="466.7,328.9 470.9,329.2 472.3,331.3 470.1,333.8 465.1,333 462.8,330.5"/>
<polygon fill="none" points="412.4,340.4 408.6,341.9 405.6,340 403.6,338.2 406.1,336.5 409.7,334.3 415.5,335.5 418,338.8"/>
<polygon fill="none" points="398.2,340.6 406,340.8 402.9,344.6 398.5,347.4 393.5,344.8 391.2,341.2"/>
<polygon fill="none" points="422.1,334.8 426.6,335.2 425.6,337.9 421.3,337.7 418.8,336"/>
<polygon fill="none" points="459.7,332.4 461.9,333.7 460,335 458,335.9 455.4,335.5 454.1,334.3 455,333.1 457,332.6"/>
<polygon fill="none" points="438.2,333.9 439.2,331.5 444.7,331.1 444.7,333.9 441.5,334.9"/>
<polygon fill="none" points="402.7,336.8 400.7,335.1 401.1,333.3 404.4,333.3 407,334.2 405.7,335.7"/>
<polygon fill="none" points="441,334.8 436.8,335.3 433.2,334.9 430.2,333.2 432.7,331.4 435.7,330.2 439.7,330.5 442.8,332.4"/>
<polygon fill="none" points="445.6,334.8 448.8,336.6 444.6,339 440.4,336.9 442.2,334.9"/>
<polygon fill="none" points="418.8,335.3 423.8,335.4 426.2,338.1 422,339.8 416.4,340.2 414.4,337.1"/>
<polygon fill="none" points="464.4,334.6 463.5,333 465.7,332 468.4,331.5 469.3,332.9 469.5,334.2 467.2,334.6"/>
<polygon fill="none" points="409.9,330.7 416.4,330.2 418.2,333.3 415.9,335.6 410,337 409.3,333.6"/>
<polygon fill="#3c0032" stroke="#3c0032" stroke-width="1" points="463,329.5 467,332.7 461.4,335.1 455.3,333.5 457.7,330.5"/>
<polygon fill="none" points="390.6,340.3 397.1,340.1 398,342.8 395.7,345.9 389.2,344"/>
<polygon fill="none" points="392.9,339.7 395.6,341.8 391.2,342.7 387,341.8 388.8,339.4"/>
<polygon fill="none" points="375.5,348.6 371.9,346.6 370.1,344.4 374.2,343.5 377.3,343.4 380,344.7 380.3,347.2"/>
<polygon fill="none" points="373.1,348.7 373.2,346 377.9,345.3 381.4,346.1 382.5,347.6 383.2,349.4 380,350.2 377.2,349.6"/>
<polygon fill="none" points="350.7,348 350.2,350.6 349.2,353.5 343.8,352.8 342.5,350.6 343.2,349.1 345.7,347.3"/>
<polygon fill="none" points="351.9,344.8 348.8,345.4 346,344.5 345.4,342.7 347.1,340.5 350.9,341.8 351.9,343.2"/>
<polygon fill="none" points="356.3,363.8 358.2,365 358.3,366 358.6,367.4 356.1,367.8 354.5,366.8 351.9,365.9 354.1,364.8"/>
<polygon fill="#3c0032" stroke="#3c0032" stroke-width="1" points="388.8,360.8 392.9,363.6 388.3,366.5 382.7,364.7 382.7,361.5"/>
<polygon fill="none" points="375.7,353.4 379.2,350.6 384.2,350.5 388.5,351.4 388.4,353.9 385.1,355.5 379.7,356.2"/>
<polygon fill="none" points="361.5,348.4 357.6,348.2 354.1,348.3 351.5,346.5 353.8,344.5 357.3,343.9 360.4,344.7 363.3,346.3"/>
<polygon fill="none" points="367.5,348.1 364.4,346.3 368.3,345.1 370.9,346 372.2,348.2"/>
<polygon fill="none" points="380.4,345.5 383.5,343.7 388.3,344.1 388,346.8 383.2,348"/>
<polygon fill="#3c0032" stroke="#3c0032" stroke-width="1" points="359.2,356.4 358.8,358.9 357.8,360.2 354.9,361.9 350.5,360.6 351.5,358.1 354.4,356.5"/>
<polygon fill="none" points="392.2,362.6 396,364.7 398.1,368.9 390,368.1 382.8,367 385,362.7"/>
<polygon fill="none" points="338.2,356.2 337.5,357.7 335.1,358.2 332.3,357.9 333,356.4 333.9,355.4 336.7,354.7"/>
<polygon fill="none" points="348.3,363.5 347.5,364.5 345.2,365.4 343.8,364.1 343.2,362.9 345.1,362 347,362.7"/>
<polygon fill="#3c0032" stroke="#3c0032" stroke-width="1" points="379.5,341.5 377.9,342.5 375.3,342.3 373.4,341.2 373.3,339.6 375.8,338.5 378.6,339.2 380.2,340.2"/>
<polygon fill="none" points="330.8,355.9 326.9,355.8 327.5,353.7 329.8,351.8 333.3,353.2 333,355"/>
<polygon fill="none" points="362.4,358.5 362.2,360.9 358.1,363.6 352.7,361.3 351.6,357.4 358.5,356.8"/>
<polygon fill="none" points="384.6,348.1 383.7,349.7 379.8,350.8 378.1,348.3 381.7,347.6"/>
<polygon fill="none" points="357.6,351.6 354.8,352.1 351.5,351.4 351,348.7 356,348.2 360,349.6"/>
<polygon fill="none" points="392.4,349.6 386.5,351.6 378.7,349.9 383.6,346.5 389.8,346.1"/>
<polygon fill="none" points="331.4,352.3 329.6,353.7 325.3,356 322.9,353.1 320.2,350.7 323.3,348 328.8,348.9 332,350.3"/>
<polygon fill="#3c0032" stroke="#3c0032" stroke-width="1" points="378.8,345.9 380.6,348.6 376,350.4 370,350.2 366.5,347.3 371.8,345.5 375.8,343.3"/>
<polygon fill="none" points="388.7,351.3 386.5,354.3 384.2,356.6 380.1,355.2 374.2,353.9 378.6,351.4 383.1,349.7"/>
<polygon fill="none" points="358.7,364.7 357.2,362.3 360.9,360.1 366,361.5 367.1,364.4 362.5,365.4"/>
<polygon fill="none" points="376.5,347.1 373.6,347.8 369.7,346.9 371.4,344.9 372.7,343.2 376.6,342.6 379.9,344.1 380.3,346.3"/>
<polygon fill="none" points="348.4,348.9 345.6,348.7 344.4,347.4 343.8,345.4 347.9,345.1 350.3,346.3 350.8,348"/>
<polygon fill="none" points="370,346 370.2,348.4 366.1,350.3 360.4,349.3 357.4,346.4 362.5,344.7 365.3,343.3 368.6,344.4"/>
<polygon fill="none" points="397.6,356.9 398.7,353.8 405.3,352.9 410,355.6 406.6,358.2 403.9,361 397.5,360.2"/>
<polygon fill="#3c0032" stroke="#3c0032" stroke-width="1" points="331.5,350 329.7,351.5 326.3,351.3 324.3,350 325.8,348.6 328,348.1 330.6,348.5"/>
<polygon fill="none" points="331.2,355.8 328.3,357.1 324.3,356.7 324.1,354.6 324.5,353.2 326.7,351.4 330.2,352.4 331.6,354"/>
<polygon fill="none" points="398.3,349.6 395.3,347.5 399.2,345.4 404.5,346.1 406.1,348.4 404.7,350.6 400.3,352.4"/>
<polygon fill="none" points="334.3,358.1 331.3,358.6 327,357.6 329.4,355.3 333.6,354.5 337.9,356.2"/>
<polygon fill="none" points="341,349.2 341.7,350.8 338.5,352.1 334.5,350.9 336.4,349 338.9,348.4"/>
<polygon fill="none" points="406.1,354.9 403.9,355.8 401,355.8 399.7,354.4 399.7,352.9 402.2,352.2 404.8,352.4 405.4,353.7"/>
<polygon fill="none" points="366.5,342.1 364.9,339.4 368.6,336.1 376.8,337.1 374.6,341 371.7,344"/>
<polygon fill="none" points="331.8,355.7 335.5,355.4 338.8,356.6 338.6,358.8 335.4,360.3 331.8,359.2 331.1,357.5"/>
<polygon fill="#3c0032" stroke="#3c0032" stroke-width="1" points="365.7,349.8 367.2,352.2 365.4,353.9 363.4,355.4 359.7,355.1 355.7,353.7 357.5,351.3 360.7,349.7"/>
<polygon fill="none" points="347.9,359.6 350.5,360.2 351.9,360.7 353.5,361.6 352.2,362.9 349.7,362.5 348.2,362 346.1,361"/>
<polygon fill="#3c0032" stroke="#3c0032" stroke-width="1" points="394.6,364.7 390.6,367.3 386.4,365 383,362.1 389.3,361.1 395.6,361.4"/>
<polygon fill="none" points="362.9,366.4 365.4,365.7 367.5,366.6 368.5,368 366.8,369.5 363.7,369 362,367.8"/>
<polygon fill="#3c0032" stroke="#3c0032" stroke-width="1" points="384.8,345 392.4,343.6 394.6,348 388.9,350.6 381.1,348.8"/>
<polygon fill="none" points="353.4,362.8 355.6,361.2 359,362.2 359.6,363.8 359.3,365.7 355.9,365.1 352,364.8"/>
<polygon fill="none" points="375.5,366.1 379.2,367.9 380.6,369.8 379.2,372.2 374.5,372 371.6,370.3 373.1,368.5"/>
<polygon fill="none" points="373,342 371,341 371.6,339.6 373.7,339 375.6,339.6 376.8,340.6 376,342.1"/>
<polygon fill="none" points="384.2,351.5 384.4,353.3 382.3,354.3 380.2,353.7 378.2,352.5 380.7,351.3"/>
<polygon fill="none" points="376.7,357.5 373.5,354.5 369.6,352.8 372.1,350.4 376.6,349.8 379.9,351 384.9,352.7 379.8,354.4"/>
<polygon fill="none" points="342.4,356 345,357 344.9,358.7 342.2,359.5 338.5,361 335.4,359.1 335.6,356.7 339.7,356.3"/>
<polygon fill="#3c0032" stroke="#3c0032" stroke-width="1" points="388.3,357.3 383.1,355.9 378.7,355 380.5,352.7 381.1,349.7 387.1,349.4 391.7,351.5 389.3,354.2"/>
<polygon fill="none" points="373.7,363.9 369,361.6 372.4,359 374.9,357 378.8,358.3 383.4,360.3 380,363.2"/>
<polygon fill="none" points="345.3,349.3 346.4,351.7 343.7,353.8 338.9,354.9 335.9,352.6 333.7,350.3 336.9,348.3 341.7,347.5"/>
<polygon fill="none" points="379.5,358.2 378.9,355.9 382.5,355 385.1,355.8 385.7,357.2 383.7,359.1"/>
<polygon fill="#3c0032" stroke="#3c0032" stroke-width="1" points="379.6,341 376.2,341.8 372.7,340.8 374.5,338.5 379.2,338.7"/>
<polygon fill="none" points="385.4,359 384.3,355.8 390.5,354.9 394.4,357 395.3,359.6 391.9,361.3 387.1,361.3"/>
<polygon fill="none" points="401.3,360.3 401.3,362.6 401.9,364.5 398.6,365.6 394,365.6 393.1,363.2 392.8,360.9 397,359.9"/>
<polygon fill="none" points="388,343.2 389.7,340.1 394.9,337.8 397.9,340.9 398.5,343.6 393.4,344.2"/>
<polygon fill="none" points="371.6,370.8 366.9,369.6 368.7,366.9 373.2,366.8 377.7,367.8 375,369.9"/>
<polygon fill="none" points="386.8,365.6 381.3,367.2 376,365.8 375.6,363 377.7,360.6 382.6,360.9 385.3,362.6"/>
<polygon fill="none" points="373.4,343.4 374.4,346.9 367.2,348.5 361.5,345.7 365,342.7 369.8,340.4"/>
<polygon fill="none" points="396.9,355.3 392,356 389.1,353.8 391.4,351.8 394.1,350.3 399.4,350.6 398.6,353.3"/>
<polygon fill="none" points="347.6,356.2 354.9,358.2 355.6,362.1 350.1,363.8 345.1,362.6 341,359.2"/>
<polygon fill="none" points="342.6,359.1 340.7,361.3 336.7,361.1 335.3,359.6 335.8,357.6 339.2,358.1"/>
<polygon fill="none" points="352.8,364 352,361.5 356.9,360.6 362.2,361.2 364.3,364.4 359.4,366.2 354.3,366.5"/>
<polygon fill="none" points="425.5,348.6 431.6,349.2 433.4,351.9 431.1,354.8 426,353.5 422.8,351.5"/>
<polygon fill="none" points="410.7,363.1 412.2,360.9 416.7,360.1 419.3,362 419.1,363.6 419.7,365.9 415.3,366.7 413.3,364.5"/>
<polygon fill="none" points="408.8,380.7 410.8,377.4 418,377.9 421.7,381.5 416.4,384.4 409.1,384.2"/>
<polygon fill="none" points="440.8,362.4 439.4,365.7 431.5,367 427.5,362.9 431.4,359.3 438.9,359"/>
<polygon fill="none" points="443.7,343.7 442.8,345.2 441.7,347.1 438.3,346.4 436.7,345.2 437,343.9 437.9,342.1 441.8,342.1"/>
<polygon fill="#3c0032" stroke="#3c0032" stroke-width="1" points="429.2,373.5 427.1,371.4 429.9,369.4 434,370.1 435,371.9 433.3,373.7"/>
<polygon fill="none" points="464.3,353.7 462.4,355.7 458.6,356.9 454.6,355.6 455.5,353.3 457.6,351.5 461.3,352.3"/>
<polygon fill="none" points="450.5,341.2 446.6,344.5 442.3,347.5 435.1,345.1 436.2,340.7 443.2,340.5"/>
<polygon fill="none" points="446.8,351.9 448.4,353.2 446.8,355 443.7,354.1 442.2,352.8 443.9,351.3"/>
<polygon fill="none" points="436,374.1 439.5,373.8 441.2,375.5 442.3,377.4 439,378.3 436.1,377.9 434.4,376.8 434.7,375.5"/>
<polygon fill="none" points="402.3,367.4 399.6,367.5 398.1,366.1 400.3,365.1 402.1,364.4 405,364.5 405.7,366 404.3,367.1"/>
<polygon fill="none" points="449.6,349 447.6,351.5 441.4,350.4 442.8,346.9 448,347.3"/>
<polygon fill="none" points="450.2,345.4 452.5,344.1 454.9,345.4 456.2,346.7 455.2,348.1 452.5,349.1 450.4,347.8 448.9,346.7"/>
<polygon fill="none" points="421.9,386.1 422.6,387.8 421.6,389.7 418.1,389.3 415.8,388.3 414.6,386.2 418.7,385.9"/>
<polygon fill="#3c0032" stroke="#3c0032" stroke-width="1" points="424.1,372.3 424.2,370.3 428.4,368.4 431.2,371.2 428.5,374"/>
<polygon fill="none" points="430.5,368.7 435.3,368.2 439,369.9 436.5,372 432.7,373.2 429.9,371.2"/>
<polygon fill="none" points="408.2,348 407.4,349.8 403.8,350.7 401.7,348.7 404.6,347.2"/>
<polygon fill="none" points="415.7,362.3 417.8,360.6 421.4,361.3 423.7,362.5 424.5,364.4 421.6,365.8 418.1,365.2 415.3,364.2"/>
<polygon fill="#3c0032" stroke="#3c0032" stroke-width="1" points="397.9,379.2 400.4,377.2 405,375.8 407,378.4 405.4,380.5 401.6,380.5"/>
<polygon fill="none" points="448.2,347.9 441.3,347.1 442.9,343.2 450.3,341.7 453.9,345.7"/>
<polygon fill="#3c0032" stroke="#3c0032" stroke-width="1" points="403.2,384.3 405.5,382.6 407.1,380.7 410.9,381.4 411,383.2 410.7,384.3 409.5,385.9 405.8,385.9"/>
<polygon fill="none" points="418,380.7 419.9,379.3 423,380 423.9,381.6 422.5,382.7 420.9,384.3 418.8,382.8 415.7,382"/>
<polygon fill="none" points="422.9,384.4 419,385.8 414.6,385.6 413.8,383.4 414.5,381.5 418.5,380.2 422.2,381.9"/>
<polygon fill="none" points="415.6,365.8 412.3,363.4 416.7,361.5 420.7,360.3 426,361.1 426,363.9 423.8,365.9 419.8,366.4"/>
<polygon fill="none" points="417.5,350.9 411.2,348 412.9,343.9 420.1,341.9 424.3,345.3 422.4,348"/>
<polygon fill="none" points="453.9,352.1 449.9,350.5 451,347.1 458.3,346.1 461.8,349.5 457.8,351.6"/>
<polygon fill="none" points="437.4,372.6 431.8,371.4 433.2,368 439.1,368.1 441.1,370.6"/>
<polygon fill="#3c0032" stroke="#3c0032" stroke-width="1" points="409.2,351.1 408.3,349.5 409.4,348 412.3,348.2 413.8,349 416,350.8 412.2,351.3"/>
<polygon fill="none" points="412.1,374.8 407.7,376.7 404.7,373.9 407.7,371.5 411.9,372.7"/>
<polygon fill="none" points="430.1,375.5 426.4,374.7 426.6,372.4 430.3,371.6 433.4,372.7 435,375.2"/>
<polygon fill="none" points="469,340.3 467.1,342.4 465.7,344.1 462.3,344.1 460.2,342.8 456.7,340.8 460.9,339.3 464.7,339.7"/>
<polygon fill="none" points="429.4,352.7 426.2,354.8 419.4,355.1 417.2,351.1 422.7,348.3 427.4,350.6"/>
<polygon fill="none" points="472.6,340.6 470.8,342.6 467,343 464.9,340.8 468.8,340"/>
<polygon fill="#3c0032" stroke="#3c0032" stroke-width="1" points="436.9,346.7 436,349.1 432.7,350.8 428.6,349.4 430.1,347.4 432.6,345.5"/>
<polygon fill="none" points="450.2,359.3 447.4,361.8 443.6,362.4 440.5,362.3 434.7,361.5 438,359 441.3,357.9 444.7,358.4"/>
<polygon fill="none" points="419.4,381.7 419.9,380 422.9,380.7 424.9,381.4 424.5,382.6 423.2,383.6 420.4,384.4 419,382.9"/>
<polygon fill="none" points="437.2,360.1 428.9,360.2 425.7,355.7 433.5,352.4 440.1,356"/>
<polygon fill="none" points="416.1,383 413.5,386.5 406.9,385.9 402.7,385.7 397.6,383.6 403.1,381.6 406.1,378.9 410.5,380.9"/>
<polygon fill="none" points="423.6,347.7 420.8,348.2 420.3,346.6 420.3,345.4 422.6,345.3 424.3,345.7 425.8,346.9"/>
<polygon fill="none" points="405.9,376.2 402,377.2 399,375.2 401.2,373.3 404.2,372.2 406.7,373.4 409.8,375.1"/>
<polygon fill="none" points="438.5,359.9 436.4,361.4 433.7,360.2 430.9,359.4 432.5,357.9 434.4,356.6 438.3,356.4 437.9,358.6"/>
<polygon fill="none" points="470,339.6 471.5,342.1 470.7,344.5 466.1,344.2 462.6,342.6 466,341"/>
<polygon fill="none" points="435.1,371.7 429.7,370.9 432.5,368.2 437.4,367.9 440.1,370.6"/>
<polygon fill="none" points="443.9,353.1 448.5,351.7 452.3,349.4 457.2,351.3 455.4,354 454,355.7 450.3,357.1 446,355.7"/>
<polygon fill="none" points="408.4,361.3 410.4,362.7 408.2,364.4 405.1,363.4 402.6,362 405.2,360.1"/>
<polygon fill="none" points="432.9,364.3 429.8,362.1 431.2,359.3 436.8,356.8 442.9,359.3 444.3,363.3 438.7,366"/>
<polygon fill="#3c0032" stroke="#3c0032" stroke-width="1" points="401.9,372.5 395.9,371.6 395.8,368.3 398.7,365.6 403.9,366.8 408.3,368.2 407.3,371.3"/>
<polygon fill="#3c0032" stroke="#3c0032" stroke-width="1" points="397.1,374.6 400.8,375.1 402.9,375.7 403.2,377 401.3,377.8 398.7,377.9 397.9,376.6"/>
<polygon fill="none" points="425.9,348.9 423.6,350.2 421,349.2 419.9,347.9 420.8,346.3 424.2,346 426.1,347.4"/>
<polygon fill="none" points="416,363.3 421.4,362 424.3,364.9 422.2,367.8 416.1,368.3 413,365.6"/>
<polygon fill="none" points="420,350.8 420.9,353.3 416.2,353.3 411.7,354.3 411.1,351.7 411.8,350 414.6,349.1 419,348.4"/>
<polygon fill="none" points="432.3,374.1 436.9,372.3 442.2,373 441,375.9 435.3,377.2"/>
<polygon fill="none" points="447.7,344.6 450.4,345.9 449.6,347.9 446.1,348.8 443.3,347.6 441.7,345.9 444.2,344.4"/>
<polygon fill="none" points="403.3,390.3 406.2,388.7 409.3,389.4 410,391.3 406.1,392.1"/>
<polygon fill="none" points="424.2,367.4 420.7,366.2 421.5,364 424.6,362.9 429.2,362.8 431.4,365.3 428.2,367.2"/>
<polygon fill="none" points="409.2,355.6 410,353.9 412.7,354.8 415.4,355.6 415,357.4 412.5,358.6 409.9,357.5 408.1,356.7"/>
<polygon fill="none" points="429.7,366.7 435.8,364.5 441.8,364.6 446.2,367 443.5,370 438.6,371.1 432.9,370.2"/>
<polygon fill="none" points="432.3,341.4 436.3,342.2 438.6,342.8 440,344.3 438.3,345.7 435,346.7 431.2,345.8 431.1,343.6"/>
<polygon fill="none" points="457.2,343.1 455,345.2 451.5,345.2 447,345.2 447,342.7 449.8,340.8 454.8,340.8"/>
<polygon fill="none" points="425.2,347.3 426.8,345.9 430.7,345.3 432.7,347.5 430,349.1 425.4,349.9"/>
<polygon fill="none" points="399.5,359.3 406,359.2 406.8,362.6 403.9,364.5 400.3,364.8 397.4,363.7 396.7,361.6"/>
<polygon fill="none" points="411.9,352.8 406.6,351.8 404.5,350 406.1,348.1 410.8,347.3 415,349.7"/>
<polygon fill="none" points="457.5,342.7 455.5,343 454.4,342.2 453.2,341 455.3,339.8 458.5,340.1 458,341.7"/>
<polygon fill="none" points="407.7,363.1 410.7,359.7 416,359.9 421.7,362.8 414.4,365.9"/>
<polygon fill="none" points="424.6,373.8 426.1,376.7 420.9,378.3 415.4,377.3 413.4,374.6 414.8,372.1 418.8,369.9 422.6,372.2"/>
<polygon fill="none" points="420.5,359.5 419.6,357.4 421.1,354.1 427,355.4 429.4,357.6 427.9,359.9 423.8,361"/>
<polygon fill="none" points="325,439.7 321.8,439.6 320.5,438 322.4,436.8 325.1,436.2 326.8,437.4 328.3,439.1"/>
<polygon fill="none" points="305.5,423.3 309.6,422.9 310.1,425.5 305.9,426.6 304.4,424.6"/>
<polygon fill="none" points="296.7,399.2 300.2,400.8 301.8,404.3 295.3,403.8 288.8,403.1 290.4,399.3"/>
<polygon fill="none" points="305.4,428.1 312.2,427 318,428 319.7,431.7 313.2,433.2 309.1,431.3"/>
<polygon fill="none" points="300.9,403.2 307.6,404.6 304.5,408.1 298.8,410 292,407.7 294.8,403.8"/>
<polygon fill="#3c0032" stroke="#3c0032" stroke-width="1" points="292.3,407.8 296.1,406.4 301.1,406.5 302.7,409.4 298.3,411 293.3,410.5"/>
<polygon fill="none" points="323.4,431.9 320.3,433.2 316.7,433.8 314.6,431.7 317.7,430.5 321.4,429.8"/>
<polygon fill="none" points="322.3,434.7 316.4,436.2 313.1,432.3 319.6,430.6 324,432.3"/>
<polygon fill="none" points="324.5,442 326.7,442.7 329,444 326.2,445.1 323.4,445.2 321.1,444.2 322.1,442.6"/>
<polygon fill="none" points="320.2,427.4 319.5,430.5 316.8,432.7 312.4,432.4 308.8,431.5 306.6,429.2 310.8,428 314.6,426.1"/>
<polygon fill="#3c0032" stroke="#3c0032" stroke-width="1" points="294.5,405.1 291.4,403.9 288.8,402 292.5,399.8 297.2,401.2 297,403.4"/>
<polygon fill="none" points="308.5,423.8 307.9,421.6 311.6,420.7 314.8,420.2 318.3,421.3 316.6,423.2 316,425.6 311.3,425.6"/>
<polygon fill="none" points="311.9,427.3 314.2,425.5 317.4,424.8 322,425.3 319.9,427.5 318.2,428.8 314.2,429.4"/>
<polygon fill="none" points="296.2,413.7 288.2,411.2 291,407.4 297.9,405.7 302.3,409.8"/>
<polygon fill="none" points="312.7,423.1 315.5,427.1 308.8,428.2 303.2,426.8 305.4,423.4"/>
<polygon fill="#3c0032" stroke="#3c0032" stroke-width="1" points="287.9,403.5 288.9,401.3 294,399 295.9,402.4 297.5,405.9 290.7,405.3"/>
<polygon fill="none" points="324.9,435.8 322.6,436.7 319.7,436 319.8,434.3 322.3,433.9 324.6,433.4 325,434.7"/>
<polygon fill="#3c0032" stroke="#3c0032" stroke-width="1" points="302.8,411 300.7,411.7 296.6,412.2 296.8,410 296.7,408.2 300.1,407.7 304,407.7 304.8,409.7"/>
<polygon fill="#3c0032" stroke="#3c0032" stroke-width="1" points="327.6,439 319.4,441.8 312.2,439.8 315.1,436.5 322.2,434.1"/>
<polygon fill="#3c0032" stroke="#3c0032" stroke-width="1" points="321.5,430 319.8,432.2 316.3,432.9 311.5,433.9 310.1,431.3 311.4,429.2 314.3,427.8 318,428.6"/>
<polygon fill="none" points="294,409.4 301.6,410.2 305.2,413.1 299.8,414.8 291.1,414.5"/>
<polygon fill="#3c0032" stroke="#3c0032" stroke-width="1" points="317.4,426.7 315.3,428.7 312.5,429.2 310.3,427.7 312.7,426"/>
<polygon fill="none" points="567.7,367.5 565,365.4 568.1,363.7 572.2,364.3 571.5,366.5"/>
<polygon fill="#3c0032" stroke="#3c0032" stroke-width="1" points="574.3,355 577,353.3 579.9,355 580.7,357.1 576.8,358.4 572.1,357.3"/>
<polygon fill="none" points="560.9,369 566.4,368.3 571.5,368.3 572.3,371 571.2,373.8 566.2,372.7 562.3,371.9"/>
<polygon fill="#3c0032" stroke="#3c0032" stroke-width="1" points="565.6,362.4 567.3,360.8 569,359.7 571.4,360.3 573.1,361.1 572.5,362.2 571.1,363 569.1,362.8"/>
<polygon fill="none" points="584,330.1 589,330.8 590.7,332.7 587.6,334.7 583.2,333.1"/>
<polygon fill="none" points="586.4,345.1 588.7,345.3 589.4,346.8 587.8,348.2 585,347.7 582.2,347.2 582,345.6 584.8,345.2"/>
<polygon fill="none" points="586.5,346.5 583.7,347 580.4,346.1 579.9,343.6 584.3,343 587.7,343.6 588.9,345.4"/>
<polygon fill="none" points="593.9,342.5 586.9,341.8 586,338.1 590.4,336.4 595.4,334.5 600.3,337 599.1,340.5"/>
<polygon fill="none" points="583.5,348.5 580.5,349.8 576.3,348.7 575.5,346 579.9,344.8 585.2,344.1 585.3,347"/>
<polygon fill="none" points="578.7,352.8 582.4,353.6 583.6,355.7 581.3,357.3 577.7,357.2 576,355.8 575.6,354.1"/>
<polygon fill="#3c0032" stroke="#3c0032" stroke-width="1" points="587,341.7 585.1,338.6 591.5,338.5 596.7,337.3 597.1,340.3 599.1,343 594.2,344.2 588.3,344.9"/>
<polygon fill="none" points="585.7,349.7 584,353.2 577.8,351.4 575.5,348.6 579.5,346.2 585.6,346.6"/>
<polygon fill="#3c0032" stroke="#3c0032" stroke-width="1" points="593.8,344 590.5,344.8 588,343.2 588.9,341.1 592.5,341 595.8,340.2 597.1,342 596.6,343.6"/>
<polygon fill="none" points="594.8,337 597.6,340.4 590.8,340.9 586.3,339.8 583.8,336.5 590.4,335.9"/>
<polygon fill="none" points="590.3,336.8 592,335.1 596.6,335 598.7,337.5 595.2,339.6 589.1,339.8"/>
<polygon fill="none" points="562.3,369.9 566.9,371.2 567.9,373.9 563.5,375.1 559.5,374.1 556.9,371.4"/>
<polygon fill="none" points="497.9,389.8 496.5,387 499.1,383.2 505.9,384.9 509.2,387.3 507.8,390.2 502.7,390.7"/>
<polygon fill="none" points="493,361.7 494.1,363.6 490.1,363.8 487.4,362.2 490.2,360.5"/>
<polygon fill="none" points="510.9,399.3 506.6,398.8 505.8,396.6 505.9,394.4 509.9,393.9 513.6,394.3 515.8,396.1 514.8,398.3"/>
<polygon fill="none" points="483.5,358.8 486.2,355.5 492.4,356.7 495.3,358.6 497.4,361.9 490.9,362.9 484.9,362.1"/>
<polygon fill="none" points="483.8,361.8 483,359.2 487,358.2 491,359.5 488.3,361.5"/>
<polygon fill="none" points="502,384.1 506,385.3 503.6,387.3 501.1,388.7 496.5,388.6 495.9,386.1 497.5,383.8"/>
<polygon fill="none" points="494,364.3 496.1,365.6 496.2,367.7 492.2,368.5 489,367.6 488.6,366 488.2,364.3 491.3,363.5"/>
<polygon fill="#3c0032" stroke="#3c0032" stroke-width="1" points="508.5,392.8 511.3,393.8 511.4,396 507.5,397.1 503.9,396.2 503.7,394.4 503.9,393.1 505.7,391.3"/>
<polygon fill="none" points="502.7,374.1 496.8,375.5 493.6,372.3 497.8,370.2 504.2,370.6"/>
<polygon fill="none" points="495.2,373.9 489.3,373.7 492.1,370.9 496,370.5 500.2,372.5"/>
<polygon fill="none" points="501.5,380.3 503.5,383.8 496.9,386.2 493.4,382.8 493.3,377.8"/>
<polygon fill="none" points="514.6,397.8 511.2,398.8 507.4,397.2 509.5,394.8 513.8,394.2 515.3,396.2"/>
<polygon fill="none" points="494.5,373.8 498.6,374.8 500.4,378.8 491.5,379.1 491.2,375.4"/>
<polygon fill="none" points="497.6,362.7 489.8,363.7 483.1,362.5 486.8,359.2 494.7,357.7"/>
<polygon fill="none" points="677.4,336.8 682.2,339.5 680.9,342.9 675.2,343.4 671.9,341.6 672.8,339.3"/>
<polygon fill="none" points="690,344.7 683.6,346.4 678.4,345.5 675.4,342.6 680.7,340.6 687,340.9"/>
<polygon fill="none" points="695.3,341.4 693.2,338.9 697.4,336.3 702.4,338.3 704.5,341.2 699.2,342.3"/>
<polygon fill="#3c0032" stroke="#3c0032" stroke-width="1" points="698.8,344.2 694.3,347 689.7,344.5 689.7,341 697,340.9"/>
<polygon fill="none" points="685.7,340.9 679.8,339.9 678.8,336.2 686.4,334.5 688.9,338.2"/>
<polygon fill="none" points="673.9,347.5 672.8,345 676.2,344.4 679,345 678.2,346.9"/>
<polygon fill="#3c0032" stroke="#3c0032" stroke-width="1" points="697,336.7 700.2,339.4 700.5,342.5 694.8,342.7 691,342 688.8,339.9 692.4,338.4"/>
<polygon fill="none" points="683.2,342.1 686.2,340.7 690.8,340.3 691.9,342.7 691.6,344.5 690,347.3 685.4,345.8 680.8,344.5"/>
<polygon fill="none" points="686.1,341.1 683,341.7 681.5,340.3 681.3,338.8 684.2,338.7 686.9,339.4"/>
<polygon fill="#3c0032" stroke="#3c0032" stroke-width="1" points="685,340.3 682.1,342.9 677,342.8 675.4,340.7 677.2,339.2 680.4,339"/>
<polygon fill="#3c0032" stroke="#3c0032" stroke-width="1" points="674.2,348.8 671.7,348.7 669.7,347.8 670.8,346.2 673.8,346.4 676.8,347.5"/>
<polygon fill="none" points="689.3,339.3 692.4,341.4 688.4,343 684,342.1 683,338.7"/>
<polygon fill="none" points="684.5,339.4 679,341.8 673.3,341.6 672.2,338.9 674.3,336.7 680.4,335.9"/>
<polygon fill="none" points="673.7,341.5 673.5,343.6 670.1,343.7 668.3,343 666.5,341.2 670.3,341.3"/>
<polygon fill="#3c0032" stroke="#3c0032" stroke-width="1" points="699.4,391.7 704.5,390.6 710,390.9 711,393.7 708,395.6 703.5,396.8 700.9,394.5"/>
<polygon fill="none" points="700,399.2 701,395.5 707.4,393.8 711.1,396.6 712.8,400.1 705.9,400.8"/>
<polygon fill="#3c0032" stroke="#3c0032" stroke-width="1" points="710.9,395.4 704.8,393.8 703.1,389.8 710,388.2 717.5,389.3 717.9,393.7"/>
<polygon fill="none" points="711.3,390.9 712.7,392.9 713.7,395.5 708.8,397 705.1,394.9 703.2,392.6 706.1,390"/>
<polygon fill="none" points="714.2,396 710.3,395.6 706.8,395.2 705.5,393.2 708.6,392.1 711.4,391.1 716.6,391.2 714.9,393.9"/>
<polygon fill="none" points="704.8,393.7 708.7,392.8 708.9,395.1 707.2,396.5 702.9,397.2 702.4,394.7"/>
</g>
<g stroke="#fff" stroke-width="1.2" fill="none"><polyline points="534,363 542,363"/><polyline points="539.5,361.2 542.5,363 539.5,364.8"/></g>
<rect x="406" y="310" width="2" height="275" fill="#3c0032"/>
<rect x="635" y="310" width="2" height="275" fill="#3c0032"/>
<rect x="864" y="310" width="2" height="275" fill="#3c0032"/>
<rect x="178" y="310" width="916" height="275" fill="none" stroke="#3c0032" stroke-width="2"/>
<rect x="173" y="309.5" width="5" height="1" fill="#3c0032"/>
<text x="168" y="316.0" font-size="16" text-anchor="end" textLength="27" lengthAdjust="spacingAndGlyphs">90N</text>
<rect x="173" y="340.1" width="5" height="1" fill="#3c0032"/>
<text x="168" y="346.6" font-size="16" text-anchor="end" textLength="27" lengthAdjust="spacingAndGlyphs">80N</text>
<rect x="173" y="370.6" width="5" height="1" fill="#3c0032"/>
<text x="168" y="377.1" font-size="16" text-anchor="end" textLength="27" lengthAdjust="spacingAndGlyphs">70N</text>
<rect x="173" y="401.1" width="5" height="1" fill="#3c0032"/>
<text x="168" y="407.6" font-size="16" text-anchor="end" textLength="27" lengthAdjust="spacingAndGlyphs">60N</text>
<rect x="173" y="431.7" width="5" height="1" fill="#3c0032"/>
<text x="168" y="438.2" font-size="16" text-anchor="end" textLength="27" lengthAdjust="spacingAndGlyphs">50N</text>
<rect x="173" y="462.2" width="5" height="1" fill="#3c0032"/>
<text x="168" y="468.8" font-size="16" text-anchor="end" textLength="27" lengthAdjust="spacingAndGlyphs">40N</text>
<rect x="173" y="492.8" width="5" height="1" fill="#3c0032"/>
<text x="168" y="499.3" font-size="16" text-anchor="end" textLength="27" lengthAdjust="spacingAndGlyphs">30N</text>
<rect x="173" y="523.4" width="5" height="1" fill="#3c0032"/>
<text x="168" y="529.9" font-size="16" text-anchor="end" textLength="27" lengthAdjust="spacingAndGlyphs">20N</text>
<rect x="173" y="553.9" width="5" height="1" fill="#3c0032"/>
<text x="168" y="560.4" font-size="16" text-anchor="end" textLength="27" lengthAdjust="spacingAndGlyphs">10N</text>
<rect x="173" y="584.5" width="5" height="1" fill="#3c0032"/>
<text x="168" y="591.0" font-size="16" text-anchor="end" textLength="18" lengthAdjust="spacingAndGlyphs">EQ</text>
<rect x="177.5" y="585" width="1" height="5" fill="#3c0032"/>
<text x="178.0" y="606" font-size="16" text-anchor="middle">180</text>
<rect x="330.2" y="585" width="1" height="5" fill="#3c0032"/>
<text x="330.7" y="606" font-size="16" text-anchor="middle">120W</text>
<rect x="482.8" y="585" width="1" height="5" fill="#3c0032"/>
<text x="483.3" y="606" font-size="16" text-anchor="middle">60W</text>
<rect x="635.5" y="585" width="1" height="5" fill="#3c0032"/>
<text x="636.0" y="606" font-size="16" text-anchor="middle">0</text>
<rect x="788.2" y="585" width="1" height="5" fill="#3c0032"/>
<text x="788.7" y="606" font-size="16" text-anchor="middle">60E</text>
<rect x="940.8" y="585" width="1" height="5" fill="#3c0032"/>
<text x="941.3" y="606" font-size="16" text-anchor="middle">120E</text>
<rect x="1093.5" y="585" width="1" height="5" fill="#3c0032"/>
<text x="1094.0" y="606" font-size="16" text-anchor="middle">180</text>
<text x="636" y="260" font-size="20" text-anchor="middle" textLength="234" lengthAdjust="spacingAndGlyphs">NCEP/NCAR Reanalysis</text>
<text x="636" y="290" font-size="20" text-anchor="middle" textLength="670" lengthAdjust="spacingAndGlyphs">Sea Level Pressure (mb) Composite Anomaly 1981&#8211;2010 climo</text>
<text x="636" y="636" font-size="20" text-anchor="middle" textLength="272" lengthAdjust="spacingAndGlyphs">Feb 2004,1974,1983,2009</text>
<rect x="734" y="311" width="358.5" height="25.5" fill="#fff"/>
<text x="1088" y="327" font-size="16" text-anchor="end" textLength="328" lengthAdjust="spacingAndGlyphs">NOAA/ESRL Physical Sciences Division</text>
<polygon points="119.5,764 178,753 178,775" fill="#500046" stroke="#000" stroke-width="2" stroke-linejoin="miter"/>
<polygon points="1071,764 1012,753 1012,775" fill="#ff0000" stroke="#000" stroke-width="2"/>
<rect x="178" y="753" width="59" height="22" fill="#780078" stroke="#000" stroke-width="2"/>
<rect x="237" y="753" width="60" height="22" fill="#c800c8" stroke="#000" stroke-width="2"/>
<rect x="297" y="753" width="59" height="22" fill="#7800dc" stroke="#000" stroke-width="2"/>
<rect x="356" y="753" width="60" height="22" fill="#2800e6" stroke="#000" stroke-width="2"/>
<rect x="416" y="753" width="59" height="22" fill="#0064d2" stroke="#000" stroke-width="2"/>
<rect x="475" y="753" width="60" height="22" fill="#00ffff" stroke="#000" stroke-width="2"/>
<rect x="535" y="753" width="59" height="22" fill="#ffffff" stroke="#000" stroke-width="2"/>
<rect x="594" y="753" width="60" height="22" fill="#ffffff" stroke="#000" stroke-width="2"/>
<rect x="654" y="753" width="60" height="22" fill="#32dc00" stroke="#000" stroke-width="2"/>
<rect x="714" y="753" width="59" height="22" fill="#c8e600" stroke="#000" stroke-width="2"/>
<rect x="773" y="753" width="60" height="22" fill="#ffe100" stroke="#000" stroke-width="2"/>
<rect x="833" y="753" width="59" height="22" fill="#ffe600" stroke="#000" stroke-width="2"/>
<rect x="892" y="753" width="60" height="22" fill="#ffa500" stroke="#000" stroke-width="2"/>
<rect x="952" y="753" width="59" height="22" fill="#ff3200" stroke="#000" stroke-width="2"/>
<text x="178.5" y="795" font-size="20" text-anchor="middle">&#8722;7</text>
<text x="297.6" y="795" font-size="20" text-anchor="middle">&#8722;5</text>
<text x="416.8" y="795" font-size="20" text-anchor="middle">&#8722;3</text>
<text x="535.9" y="795" font-size="20" text-anchor="middle">&#8722;1</text>
<text x="655.1" y="795" font-size="20" text-anchor="middle">1</text>
<text x="774.2" y="795" font-size="20" text-anchor="middle">3</text>
<text x="893.3" y="795" font-size="20" text-anchor="middle">5</text>
<text x="1012.5" y="795" font-size="20" text-anchor="middle">7</text>
</svg></body></html>
